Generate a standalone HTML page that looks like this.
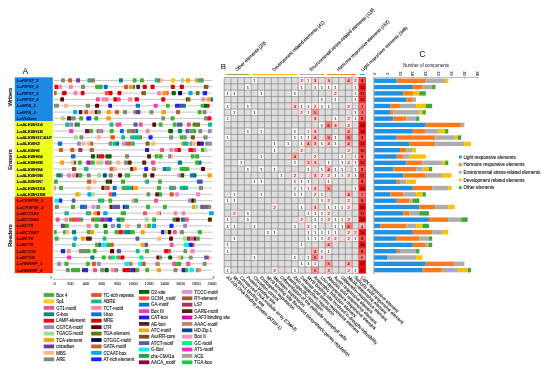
<!DOCTYPE html>
<html lang="en"><head><meta charset="utf-8"><title>Figure</title>
<style>html,body{margin:0;padding:0;background:#fff;}svg{display:block;will-change:transform;}text{font-family:"Liberation Sans", sans-serif;}</style></head><body>
<svg width="550" height="369" viewBox="0 0 550 369">
<rect width="550" height="369" fill="#fff"/>
<g id="panelA">
<text x="25.2" y="73.5" font-size="8.4" text-anchor="middle" fill="#000">A</text>
<rect x="14.80" y="77.30" width="38.00" height="44.00" fill="#1A8AE4"/>
<rect x="14.80" y="121.30" width="38.00" height="75.40" fill="#EEFF1A"/>
<rect x="14.80" y="196.70" width="38.00" height="76.40" fill="#FF2A00"/>
<text transform="translate(11.7 97.1) rotate(-90)" font-size="6" text-anchor="middle" fill="#111" stroke="#111" stroke-width="0.18">Writers</text>
<text transform="translate(11.7 159.7) rotate(-90)" font-size="6" text-anchor="middle" fill="#111" stroke="#111" stroke-width="0.18">Erasers</text>
<text transform="translate(11.7 235.7) rotate(-90)" font-size="6" text-anchor="middle" fill="#111" stroke="#111" stroke-width="0.18">Readers</text>
<text x="16.8" y="82.06" font-size="4.4" font-weight="bold" font-style="italic" fill="#07134A" stroke="#07134A" stroke-width="0.12">LcFIP37_1</text>
<text x="16.8" y="88.38" font-size="4.4" font-weight="bold" font-style="italic" fill="#07134A" stroke="#07134A" stroke-width="0.12">LcFIP37_2</text>
<text x="16.8" y="94.71" font-size="4.4" font-weight="bold" font-style="italic" fill="#07134A" stroke="#07134A" stroke-width="0.12">LcFIP37_3</text>
<text x="16.8" y="101.03" font-size="4.4" font-weight="bold" font-style="italic" fill="#07134A" stroke="#07134A" stroke-width="0.12">LcFIP37_4</text>
<text x="16.8" y="107.35" font-size="4.4" font-weight="bold" font-style="italic" fill="#07134A" stroke="#07134A" stroke-width="0.12">LcMTA_1</text>
<text x="16.8" y="113.68" font-size="4.4" font-weight="bold" font-style="italic" fill="#07134A" stroke="#07134A" stroke-width="0.12">LcMTA_2</text>
<text x="16.8" y="120.00" font-size="4.4" font-weight="bold" font-style="italic" fill="#07134A" stroke="#07134A" stroke-width="0.12">LcVirlizer</text>
<text x="16.8" y="126.32" font-size="4.4" font-weight="bold" font-style="italic" fill="#0A0A00" stroke="#0A0A00" stroke-width="0.12">LcALKBH1A</text>
<text x="16.8" y="132.65" font-size="4.4" font-weight="bold" font-style="italic" fill="#0A0A00" stroke="#0A0A00" stroke-width="0.12">LcALKBH1B</text>
<text x="16.8" y="138.97" font-size="4.4" font-weight="bold" font-style="italic" fill="#0A0A00" stroke="#0A0A00" stroke-width="0.12">LcALKBH1C&amp;1D</text>
<text x="16.8" y="145.29" font-size="4.4" font-weight="bold" font-style="italic" fill="#0A0A00" stroke="#0A0A00" stroke-width="0.12">LcALKBH2</text>
<text x="16.8" y="151.61" font-size="4.4" font-weight="bold" font-style="italic" fill="#0A0A00" stroke="#0A0A00" stroke-width="0.12">LcALKBH6</text>
<text x="16.8" y="157.94" font-size="4.4" font-weight="bold" font-style="italic" fill="#0A0A00" stroke="#0A0A00" stroke-width="0.12">LcALKBH8A</text>
<text x="16.8" y="164.26" font-size="4.4" font-weight="bold" font-style="italic" fill="#0A0A00" stroke="#0A0A00" stroke-width="0.12">LcALKBH8B</text>
<text x="16.8" y="170.58" font-size="4.4" font-weight="bold" font-style="italic" fill="#0A0A00" stroke="#0A0A00" stroke-width="0.12">LcALKBH9A</text>
<text x="16.8" y="176.91" font-size="4.4" font-weight="bold" font-style="italic" fill="#0A0A00" stroke="#0A0A00" stroke-width="0.12">LcALKBH9B</text>
<text x="16.8" y="183.23" font-size="4.4" font-weight="bold" font-style="italic" fill="#0A0A00" stroke="#0A0A00" stroke-width="0.12">LcALKBH9C</text>
<text x="16.8" y="189.55" font-size="4.4" font-weight="bold" font-style="italic" fill="#0A0A00" stroke="#0A0A00" stroke-width="0.12">LcALKBH10A</text>
<text x="16.8" y="195.88" font-size="4.4" font-weight="bold" font-style="italic" fill="#0A0A00" stroke="#0A0A00" stroke-width="0.12">LcALKBH10B</text>
<text x="16.8" y="202.20" font-size="4.4" font-weight="bold" font-style="italic" fill="#420000" stroke="#420000" stroke-width="0.12">LcCPSF30_1</text>
<text x="16.8" y="208.52" font-size="4.4" font-weight="bold" font-style="italic" fill="#420000" stroke="#420000" stroke-width="0.12">LcCPSF30_2</text>
<text x="16.8" y="214.84" font-size="4.4" font-weight="bold" font-style="italic" fill="#420000" stroke="#420000" stroke-width="0.12">LcECT1&amp;3</text>
<text x="16.8" y="221.17" font-size="4.4" font-weight="bold" font-style="italic" fill="#420000" stroke="#420000" stroke-width="0.12">LcECT2&amp;4</text>
<text x="16.8" y="227.49" font-size="4.4" font-weight="bold" font-style="italic" fill="#420000" stroke="#420000" stroke-width="0.12">LcECT5</text>
<text x="16.8" y="233.81" font-size="4.4" font-weight="bold" font-style="italic" fill="#420000" stroke="#420000" stroke-width="0.12">LcECT6&amp;7</text>
<text x="16.8" y="240.14" font-size="4.4" font-weight="bold" font-style="italic" fill="#420000" stroke="#420000" stroke-width="0.12">LcECT8</text>
<text x="16.8" y="246.46" font-size="4.4" font-weight="bold" font-style="italic" fill="#420000" stroke="#420000" stroke-width="0.12">LcECT9</text>
<text x="16.8" y="252.78" font-size="4.4" font-weight="bold" font-style="italic" fill="#420000" stroke="#420000" stroke-width="0.12">LcECT10</text>
<text x="16.8" y="259.11" font-size="4.4" font-weight="bold" font-style="italic" fill="#420000" stroke="#420000" stroke-width="0.12">LcECT11</text>
<text x="16.8" y="265.43" font-size="4.4" font-weight="bold" font-style="italic" fill="#420000" stroke="#420000" stroke-width="0.12">LcHNRNP_1</text>
<text x="16.8" y="271.75" font-size="4.4" font-weight="bold" font-style="italic" fill="#420000" stroke="#420000" stroke-width="0.12">LcHNRNP_2</text>
<line x1="53.8" y1="80.46" x2="212.3" y2="80.46" stroke="#B6B6B6" stroke-width="0.8"/>
<rect x="61.10" y="78.36" width="3.80" height="4.2" rx="0.6" fill="#7D8F72"/>
<rect x="68.10" y="78.36" width="3.90" height="4.2" rx="0.6" fill="#E8521E"/>
<rect x="76.10" y="78.36" width="4.00" height="4.2" rx="0.6" fill="#6A3D9A"/>
<rect x="87.40" y="78.36" width="3.80" height="4.2" rx="0.6" fill="#12B98C"/>
<rect x="90.90" y="78.36" width="2.30" height="4.2" rx="0.6" fill="#E8521E"/>
<rect x="92.60" y="78.36" width="2.40" height="4.2" rx="0.6" fill="#7D8F72"/>
<rect x="119.00" y="78.36" width="3.90" height="4.2" rx="0.6" fill="#00857A"/>
<rect x="132.80" y="78.36" width="3.80" height="4.2" rx="0.6" fill="#3DB234"/>
<rect x="139.90" y="78.36" width="4.00" height="4.2" rx="0.6" fill="#3DB234"/>
<rect x="154.90" y="78.36" width="4.30" height="4.2" rx="0.6" fill="#12B98C"/>
<rect x="158.70" y="78.36" width="1.80" height="4.2" rx="0.6" fill="#E8521E"/>
<rect x="160.30" y="78.36" width="2.70" height="4.2" rx="0.6" fill="#FFB48C"/>
<rect x="170.90" y="78.36" width="4.10" height="4.2" rx="0.6" fill="#FFCC00"/>
<rect x="180.60" y="78.36" width="3.80" height="4.2" rx="0.6" fill="#A0DC8C"/>
<rect x="185.90" y="78.36" width="4.10" height="4.2" rx="0.6" fill="#FFA000"/>
<rect x="194.90" y="78.36" width="3.50" height="4.2" rx="0.6" fill="#FFA000"/>
<rect x="198.10" y="78.36" width="4.10" height="4.2" rx="0.6" fill="#12B98C"/>
<rect x="201.50" y="78.36" width="2.30" height="4.2" rx="0.6" fill="#7D8F72"/>
<line x1="53.8" y1="86.78" x2="212.3" y2="86.78" stroke="#B6B6B6" stroke-width="0.8"/>
<rect x="54.50" y="84.68" width="3.80" height="4.2" rx="0.6" fill="#FF0019"/>
<rect x="58.30" y="84.68" width="3.70" height="4.2" rx="0.6" fill="#FF82AA"/>
<rect x="69.10" y="84.68" width="3.80" height="4.2" rx="0.6" fill="#FF82AA"/>
<rect x="81.00" y="84.68" width="4.00" height="4.2" rx="0.6" fill="#7D8F72"/>
<rect x="95.10" y="84.68" width="4.00" height="4.2" rx="0.6" fill="#3DB234"/>
<rect x="98.80" y="84.68" width="3.90" height="4.2" rx="0.6" fill="#3DB234"/>
<rect x="103.90" y="84.68" width="3.80" height="4.2" rx="0.6" fill="#0A6ED2"/>
<rect x="124.00" y="84.68" width="4.00" height="4.2" rx="0.6" fill="#E8521E"/>
<rect x="128.80" y="84.68" width="4.40" height="4.2" rx="0.6" fill="#FFA000"/>
<rect x="133.20" y="84.68" width="1.80" height="4.2" rx="0.6" fill="#0A6ED2"/>
<rect x="136.30" y="84.68" width="3.70" height="4.2" rx="0.6" fill="#5A1E1E"/>
<rect x="142.70" y="84.68" width="4.10" height="4.2" rx="0.6" fill="#DC0000"/>
<rect x="150.60" y="84.68" width="4.00" height="4.2" rx="0.6" fill="#DC0000"/>
<rect x="170.90" y="84.68" width="3.90" height="4.2" rx="0.6" fill="#DC0000"/>
<rect x="179.80" y="84.68" width="4.10" height="4.2" rx="0.6" fill="#DC0000"/>
<rect x="204.00" y="84.68" width="1.40" height="4.2" rx="0.6" fill="#DC0000"/>
<rect x="205.20" y="84.68" width="3.20" height="4.2" rx="0.6" fill="#5A7814"/>
<line x1="53.8" y1="93.11" x2="212.3" y2="93.11" stroke="#B6B6B6" stroke-width="0.8"/>
<rect x="54.00" y="91.01" width="2.70" height="4.2" rx="0.6" fill="#B4643C"/>
<rect x="62.00" y="91.01" width="4.60" height="4.2" rx="0.6" fill="#DC0000"/>
<rect x="73.60" y="91.01" width="4.00" height="4.2" rx="0.6" fill="#FF82AA"/>
<rect x="80.70" y="91.01" width="3.80" height="4.2" rx="0.6" fill="#DC0000"/>
<rect x="104.90" y="91.01" width="4.10" height="4.2" rx="0.6" fill="#FF5046"/>
<rect x="108.70" y="91.01" width="3.80" height="4.2" rx="0.6" fill="#DC0000"/>
<rect x="117.50" y="91.01" width="3.90" height="4.2" rx="0.6" fill="#DC0000"/>
<rect x="141.50" y="91.01" width="1.40" height="4.2" rx="0.6" fill="#DC0000"/>
<rect x="142.70" y="91.01" width="3.30" height="4.2" rx="0.6" fill="#5A7814"/>
<rect x="157.20" y="91.01" width="3.80" height="4.2" rx="0.6" fill="#FF82AA"/>
<rect x="162.20" y="91.01" width="4.60" height="4.2" rx="0.6" fill="#FFA000"/>
<rect x="166.60" y="91.01" width="2.10" height="4.2" rx="0.6" fill="#F5508C"/>
<rect x="171.70" y="91.01" width="4.10" height="4.2" rx="0.6" fill="#006400"/>
<rect x="178.10" y="91.01" width="4.00" height="4.2" rx="0.6" fill="#0A0A46"/>
<rect x="188.50" y="91.01" width="4.10" height="4.2" rx="0.6" fill="#00AAF0"/>
<rect x="195.80" y="91.01" width="3.70" height="4.2" rx="0.6" fill="#5A7814"/>
<rect x="202.70" y="91.01" width="4.40" height="4.2" rx="0.6" fill="#1428FF"/>
<line x1="53.8" y1="99.43" x2="212.3" y2="99.43" stroke="#B6B6B6" stroke-width="0.8"/>
<rect x="60.30" y="97.33" width="3.70" height="4.2" rx="0.6" fill="#640000"/>
<rect x="95.90" y="97.33" width="3.90" height="4.2" rx="0.6" fill="#F5508C"/>
<rect x="101.70" y="97.33" width="3.60" height="4.2" rx="0.6" fill="#FF82AA"/>
<rect x="105.10" y="97.33" width="3.60" height="4.2" rx="0.6" fill="#FF82AA"/>
<rect x="113.40" y="97.33" width="3.60" height="4.2" rx="0.6" fill="#DC0000"/>
<rect x="117.00" y="97.33" width="3.70" height="4.2" rx="0.6" fill="#F5508C"/>
<rect x="128.00" y="97.33" width="4.00" height="4.2" rx="0.6" fill="#FF82AA"/>
<rect x="134.70" y="97.33" width="4.20" height="4.2" rx="0.6" fill="#DC0000"/>
<rect x="161.30" y="97.33" width="4.00" height="4.2" rx="0.6" fill="#DC0000"/>
<rect x="185.80" y="97.33" width="1.40" height="4.2" rx="0.6" fill="#DC0000"/>
<rect x="187.00" y="97.33" width="3.50" height="4.2" rx="0.6" fill="#5A7814"/>
<rect x="201.50" y="97.33" width="3.80" height="4.2" rx="0.6" fill="#FF82AA"/>
<rect x="206.80" y="97.33" width="3.80" height="4.2" rx="0.6" fill="#FFA000"/>
<rect x="210.60" y="97.33" width="2.40" height="4.2" rx="0.6" fill="#0A6ED2"/>
<line x1="53.8" y1="105.75" x2="212.3" y2="105.75" stroke="#B6B6B6" stroke-width="0.8"/>
<rect x="54.00" y="103.65" width="4.90" height="4.2" rx="0.6" fill="#7D8F72"/>
<rect x="64.00" y="103.65" width="3.80" height="4.2" rx="0.6" fill="#FFB48C"/>
<rect x="85.90" y="103.65" width="4.10" height="4.2" rx="0.6" fill="#7D8F72"/>
<rect x="95.10" y="103.65" width="4.00" height="4.2" rx="0.6" fill="#640000"/>
<rect x="108.30" y="103.65" width="3.70" height="4.2" rx="0.6" fill="#2814E6"/>
<rect x="135.80" y="103.65" width="4.20" height="4.2" rx="0.6" fill="#0A78C8"/>
<rect x="153.70" y="103.65" width="4.00" height="4.2" rx="0.6" fill="#FF32C8"/>
<rect x="165.90" y="103.65" width="3.80" height="4.2" rx="0.6" fill="#3DB234"/>
<rect x="175.00" y="103.65" width="4.30" height="4.2" rx="0.6" fill="#1428FF"/>
<rect x="179.00" y="103.65" width="4.20" height="4.2" rx="0.6" fill="#6A3D9A"/>
<rect x="182.90" y="103.65" width="3.00" height="4.2" rx="0.6" fill="#00857A"/>
<rect x="200.70" y="103.65" width="3.80" height="4.2" rx="0.6" fill="#3DB234"/>
<rect x="204.00" y="103.65" width="3.90" height="4.2" rx="0.6" fill="#006400"/>
<rect x="207.60" y="103.65" width="1.80" height="4.2" rx="0.6" fill="#DC0000"/>
<line x1="53.8" y1="112.08" x2="212.3" y2="112.08" stroke="#B6B6B6" stroke-width="0.8"/>
<rect x="73.20" y="109.98" width="3.90" height="4.2" rx="0.6" fill="#00AAF0"/>
<rect x="78.80" y="109.98" width="3.60" height="4.2" rx="0.6" fill="#5A1E1E"/>
<rect x="84.20" y="109.98" width="3.90" height="4.2" rx="0.6" fill="#E8521E"/>
<rect x="89.70" y="109.98" width="4.00" height="4.2" rx="0.6" fill="#FFB48C"/>
<rect x="94.70" y="109.98" width="2.60" height="4.2" rx="0.6" fill="#5A1E1E"/>
<rect x="97.00" y="109.98" width="4.00" height="4.2" rx="0.6" fill="#7D8F72"/>
<rect x="106.80" y="109.98" width="4.10" height="4.2" rx="0.6" fill="#FFA000"/>
<rect x="114.90" y="109.98" width="4.10" height="4.2" rx="0.6" fill="#E8521E"/>
<rect x="123.00" y="109.98" width="4.00" height="4.2" rx="0.6" fill="#7D8F72"/>
<rect x="133.50" y="109.98" width="2.40" height="4.2" rx="0.6" fill="#7D8F72"/>
<rect x="135.70" y="109.98" width="4.70" height="4.2" rx="0.6" fill="#6A3D9A"/>
<rect x="149.60" y="109.98" width="3.80" height="4.2" rx="0.6" fill="#7D8F72"/>
<rect x="161.30" y="109.98" width="4.70" height="4.2" rx="0.6" fill="#FFA000"/>
<rect x="176.00" y="109.98" width="4.10" height="4.2" rx="0.6" fill="#B4643C"/>
<rect x="197.70" y="109.98" width="3.80" height="4.2" rx="0.6" fill="#3DB234"/>
<rect x="202.60" y="109.98" width="3.80" height="4.2" rx="0.6" fill="#7D8F72"/>
<line x1="53.8" y1="118.40" x2="212.3" y2="118.40" stroke="#B6B6B6" stroke-width="0.8"/>
<rect x="60.80" y="116.30" width="4.10" height="4.2" rx="0.6" fill="#A0DC8C"/>
<rect x="67.00" y="116.30" width="4.00" height="4.2" rx="0.6" fill="#5A1E1E"/>
<rect x="71.00" y="116.30" width="4.70" height="4.2" rx="0.6" fill="#7D8F72"/>
<rect x="79.20" y="116.30" width="3.90" height="4.2" rx="0.6" fill="#3DB234"/>
<rect x="86.40" y="116.30" width="4.80" height="4.2" rx="0.6" fill="#1428FF"/>
<rect x="94.40" y="116.30" width="3.90" height="4.2" rx="0.6" fill="#3DB234"/>
<rect x="106.40" y="116.30" width="4.40" height="4.2" rx="0.6" fill="#FFA000"/>
<rect x="161.30" y="116.30" width="3.80" height="4.2" rx="0.6" fill="#7D8F72"/>
<rect x="170.60" y="116.30" width="3.90" height="4.2" rx="0.6" fill="#3DB234"/>
<rect x="204.00" y="116.30" width="3.60" height="4.2" rx="0.6" fill="#7D8F72"/>
<rect x="207.30" y="116.30" width="4.10" height="4.2" rx="0.6" fill="#FF0019"/>
<line x1="53.8" y1="124.72" x2="212.3" y2="124.72" stroke="#B6B6B6" stroke-width="0.8"/>
<rect x="65.20" y="122.62" width="4.10" height="4.2" rx="0.6" fill="#12B98C"/>
<rect x="69.30" y="122.62" width="3.90" height="4.2" rx="0.6" fill="#9A8CB8"/>
<rect x="74.70" y="122.62" width="2.80" height="4.2" rx="0.6" fill="#00857A"/>
<rect x="77.30" y="122.62" width="2.50" height="4.2" rx="0.6" fill="#5A7814"/>
<rect x="109.50" y="122.62" width="3.90" height="4.2" rx="0.6" fill="#12B98C"/>
<rect x="115.60" y="122.62" width="5.80" height="4.2" rx="0.6" fill="#F5508C"/>
<rect x="133.50" y="122.62" width="4.10" height="4.2" rx="0.6" fill="#5A5AA0"/>
<rect x="138.90" y="122.62" width="3.80" height="4.2" rx="0.6" fill="#F5508C"/>
<rect x="152.30" y="122.62" width="3.80" height="4.2" rx="0.6" fill="#640000"/>
<rect x="158.70" y="122.62" width="3.80" height="4.2" rx="0.6" fill="#3DB234"/>
<rect x="172.80" y="122.62" width="3.80" height="4.2" rx="0.6" fill="#3DB234"/>
<rect x="177.00" y="122.62" width="5.40" height="4.2" rx="0.6" fill="#5A5AA0"/>
<rect x="187.00" y="122.62" width="3.80" height="4.2" rx="0.6" fill="#F5508C"/>
<rect x="192.60" y="122.62" width="3.80" height="4.2" rx="0.6" fill="#5A7814"/>
<rect x="196.20" y="122.62" width="3.80" height="4.2" rx="0.6" fill="#5A7814"/>
<rect x="207.90" y="122.62" width="4.00" height="4.2" rx="0.6" fill="#12B98C"/>
<line x1="53.8" y1="131.05" x2="212.3" y2="131.05" stroke="#B6B6B6" stroke-width="0.8"/>
<rect x="69.10" y="128.95" width="4.10" height="4.2" rx="0.6" fill="#FF32C8"/>
<rect x="85.00" y="128.95" width="4.30" height="4.2" rx="0.6" fill="#8C0046"/>
<rect x="89.00" y="128.95" width="3.90" height="4.2" rx="0.6" fill="#3DB234"/>
<rect x="96.60" y="128.95" width="1.60" height="4.2" rx="0.6" fill="#B4643C"/>
<rect x="98.00" y="128.95" width="4.20" height="4.2" rx="0.6" fill="#9A8CB8"/>
<rect x="102.00" y="128.95" width="1.20" height="4.2" rx="0.6" fill="#B4643C"/>
<rect x="109.70" y="128.95" width="4.00" height="4.2" rx="0.6" fill="#3DB234"/>
<rect x="120.00" y="128.95" width="3.90" height="4.2" rx="0.6" fill="#0A6ED2"/>
<rect x="126.90" y="128.95" width="4.10" height="4.2" rx="0.6" fill="#7D8F72"/>
<rect x="131.00" y="128.95" width="4.40" height="4.2" rx="0.6" fill="#B4643C"/>
<rect x="135.40" y="128.95" width="2.70" height="4.2" rx="0.6" fill="#0A6ED2"/>
<rect x="145.70" y="128.95" width="3.90" height="4.2" rx="0.6" fill="#FF82AA"/>
<rect x="168.30" y="128.95" width="4.60" height="4.2" rx="0.6" fill="#006400"/>
<rect x="177.80" y="128.95" width="4.30" height="4.2" rx="0.6" fill="#00857A"/>
<rect x="185.50" y="128.95" width="3.80" height="4.2" rx="0.6" fill="#5A5AA0"/>
<rect x="189.30" y="128.95" width="3.20" height="4.2" rx="0.6" fill="#7D8F72"/>
<rect x="192.30" y="128.95" width="3.80" height="4.2" rx="0.6" fill="#3DB234"/>
<rect x="198.40" y="128.95" width="3.90" height="4.2" rx="0.6" fill="#7D8F72"/>
<rect x="207.90" y="128.95" width="3.80" height="4.2" rx="0.6" fill="#9A8CB8"/>
<line x1="53.8" y1="137.37" x2="212.3" y2="137.37" stroke="#B6B6B6" stroke-width="0.8"/>
<rect x="73.90" y="135.27" width="4.00" height="4.2" rx="0.6" fill="#A0DC8C"/>
<rect x="79.50" y="135.27" width="3.80" height="4.2" rx="0.6" fill="#7D8F72"/>
<rect x="96.70" y="135.27" width="4.10" height="4.2" rx="0.6" fill="#FFB48C"/>
<rect x="110.50" y="135.27" width="4.40" height="4.2" rx="0.6" fill="#E8521E"/>
<rect x="121.20" y="135.27" width="3.90" height="4.2" rx="0.6" fill="#12B98C"/>
<rect x="130.20" y="135.27" width="10.20" height="4.2" rx="0.6" fill="#12B98C"/>
<rect x="140.20" y="135.27" width="1.70" height="4.2" rx="0.6" fill="#5A7814"/>
<rect x="148.50" y="135.27" width="4.10" height="4.2" rx="0.6" fill="#1428FF"/>
<rect x="169.10" y="135.27" width="4.10" height="4.2" rx="0.6" fill="#7D8F72"/>
<rect x="179.80" y="135.27" width="3.50" height="4.2" rx="0.6" fill="#3DB234"/>
<rect x="183.10" y="135.27" width="3.60" height="4.2" rx="0.6" fill="#7D8F72"/>
<rect x="190.80" y="135.27" width="4.10" height="4.2" rx="0.6" fill="#7A5020"/>
<rect x="203.30" y="135.27" width="4.30" height="4.2" rx="0.6" fill="#7D8F72"/>
<line x1="53.8" y1="143.69" x2="212.3" y2="143.69" stroke="#B6B6B6" stroke-width="0.8"/>
<rect x="57.80" y="141.59" width="4.40" height="4.2" rx="0.6" fill="#0A6ED2"/>
<rect x="77.10" y="141.59" width="3.80" height="4.2" rx="0.6" fill="#9A8CB8"/>
<rect x="81.70" y="141.59" width="3.60" height="4.2" rx="0.6" fill="#FFB48C"/>
<rect x="87.10" y="141.59" width="3.40" height="4.2" rx="0.6" fill="#FFB48C"/>
<rect x="90.30" y="141.59" width="2.90" height="4.2" rx="0.6" fill="#B4643C"/>
<rect x="108.70" y="141.59" width="3.50" height="4.2" rx="0.6" fill="#7D8F72"/>
<rect x="112.70" y="141.59" width="4.30" height="4.2" rx="0.6" fill="#12B98C"/>
<rect x="116.30" y="141.59" width="2.70" height="4.2" rx="0.6" fill="#00857A"/>
<rect x="121.90" y="141.59" width="3.60" height="4.2" rx="0.6" fill="#E68CD2"/>
<rect x="125.10" y="141.59" width="2.20" height="4.2" rx="0.6" fill="#7D8F72"/>
<rect x="127.00" y="141.59" width="4.70" height="4.2" rx="0.6" fill="#E8521E"/>
<rect x="131.70" y="141.59" width="3.00" height="4.2" rx="0.6" fill="#12B98C"/>
<rect x="145.70" y="141.59" width="3.90" height="4.2" rx="0.6" fill="#5A7814"/>
<rect x="151.10" y="141.59" width="4.10" height="4.2" rx="0.6" fill="#FFB48C"/>
<rect x="180.60" y="141.59" width="1.80" height="4.2" rx="0.6" fill="#FFCC00"/>
<rect x="182.40" y="141.59" width="6.10" height="4.2" rx="0.6" fill="#12B98C"/>
<rect x="189.70" y="141.59" width="2.30" height="4.2" rx="0.6" fill="#7D8F72"/>
<rect x="191.60" y="141.59" width="3.80" height="4.2" rx="0.6" fill="#FFB48C"/>
<rect x="196.90" y="141.59" width="3.80" height="4.2" rx="0.6" fill="#640000"/>
<rect x="200.40" y="141.59" width="3.40" height="4.2" rx="0.6" fill="#2814E6"/>
<rect x="205.30" y="141.59" width="2.60" height="4.2" rx="0.6" fill="#7D8F72"/>
<rect x="207.90" y="141.59" width="4.00" height="4.2" rx="0.6" fill="#9A8CB8"/>
<line x1="53.8" y1="150.01" x2="212.3" y2="150.01" stroke="#B6B6B6" stroke-width="0.8"/>
<rect x="59.00" y="147.91" width="4.00" height="4.2" rx="0.6" fill="#E8521E"/>
<rect x="70.30" y="147.91" width="4.10" height="4.2" rx="0.6" fill="#E8521E"/>
<rect x="78.30" y="147.91" width="4.10" height="4.2" rx="0.6" fill="#AA325A"/>
<rect x="89.70" y="147.91" width="4.30" height="4.2" rx="0.6" fill="#B4643C"/>
<rect x="145.00" y="147.91" width="4.10" height="4.2" rx="0.6" fill="#2814E6"/>
<rect x="159.90" y="147.91" width="4.20" height="4.2" rx="0.6" fill="#F5508C"/>
<rect x="169.40" y="147.91" width="3.80" height="4.2" rx="0.6" fill="#FF82AA"/>
<rect x="174.30" y="147.91" width="3.80" height="4.2" rx="0.6" fill="#F5508C"/>
<rect x="177.80" y="147.91" width="3.10" height="4.2" rx="0.6" fill="#DC0000"/>
<rect x="188.50" y="147.91" width="4.60" height="4.2" rx="0.6" fill="#FF0019"/>
<rect x="192.80" y="147.91" width="3.30" height="4.2" rx="0.6" fill="#F5508C"/>
<rect x="201.00" y="147.91" width="3.30" height="4.2" rx="0.6" fill="#3DB234"/>
<rect x="204.10" y="147.91" width="3.00" height="4.2" rx="0.6" fill="#A0DC8C"/>
<line x1="53.8" y1="156.34" x2="212.3" y2="156.34" stroke="#B6B6B6" stroke-width="0.8"/>
<rect x="71.00" y="154.24" width="4.40" height="4.2" rx="0.6" fill="#0A6ED2"/>
<rect x="90.90" y="154.24" width="4.20" height="4.2" rx="0.6" fill="#006400"/>
<rect x="96.60" y="154.24" width="2.00" height="4.2" rx="0.6" fill="#006400"/>
<rect x="98.40" y="154.24" width="5.90" height="4.2" rx="0.6" fill="#FF0019"/>
<rect x="105.40" y="154.24" width="6.20" height="4.2" rx="0.6" fill="#006400"/>
<rect x="125.10" y="154.24" width="3.90" height="4.2" rx="0.6" fill="#7D8F72"/>
<rect x="147.00" y="154.24" width="4.10" height="4.2" rx="0.6" fill="#5A2800"/>
<rect x="154.60" y="154.24" width="3.80" height="4.2" rx="0.6" fill="#3DB234"/>
<rect x="158.70" y="154.24" width="3.80" height="4.2" rx="0.6" fill="#3DB234"/>
<rect x="168.20" y="154.24" width="3.20" height="4.2" rx="0.6" fill="#7D8F72"/>
<rect x="171.20" y="154.24" width="2.00" height="4.2" rx="0.6" fill="#FFB48C"/>
<rect x="190.80" y="154.24" width="3.80" height="4.2" rx="0.6" fill="#3DB234"/>
<rect x="194.90" y="154.24" width="4.30" height="4.2" rx="0.6" fill="#3DB234"/>
<line x1="53.8" y1="162.66" x2="212.3" y2="162.66" stroke="#B6B6B6" stroke-width="0.8"/>
<rect x="60.00" y="160.56" width="4.10" height="4.2" rx="0.6" fill="#FFA000"/>
<rect x="70.70" y="160.56" width="3.20" height="4.2" rx="0.6" fill="#FFB48C"/>
<rect x="73.90" y="160.56" width="2.20" height="4.2" rx="0.6" fill="#5A7814"/>
<rect x="77.90" y="160.56" width="3.80" height="4.2" rx="0.6" fill="#3DB234"/>
<rect x="86.40" y="160.56" width="4.30" height="4.2" rx="0.6" fill="#DC00B4"/>
<rect x="90.50" y="160.56" width="4.20" height="4.2" rx="0.6" fill="#3DB234"/>
<rect x="95.90" y="160.56" width="4.10" height="4.2" rx="0.6" fill="#FFB48C"/>
<rect x="99.50" y="160.56" width="3.70" height="4.2" rx="0.6" fill="#A0DC8C"/>
<rect x="104.90" y="160.56" width="4.80" height="4.2" rx="0.6" fill="#F5508C"/>
<rect x="109.50" y="160.56" width="2.10" height="4.2" rx="0.6" fill="#3DB234"/>
<rect x="116.30" y="160.56" width="4.00" height="4.2" rx="0.6" fill="#FFB48C"/>
<rect x="124.10" y="160.56" width="3.60" height="4.2" rx="0.6" fill="#7D8F72"/>
<rect x="127.70" y="160.56" width="4.00" height="4.2" rx="0.6" fill="#5A2800"/>
<rect x="142.20" y="160.56" width="4.00" height="4.2" rx="0.6" fill="#5A1E1E"/>
<rect x="151.10" y="160.56" width="4.10" height="4.2" rx="0.6" fill="#F5508C"/>
<rect x="177.80" y="160.56" width="4.30" height="4.2" rx="0.6" fill="#00857A"/>
<rect x="195.10" y="160.56" width="4.10" height="4.2" rx="0.6" fill="#3DB234"/>
<rect x="198.90" y="160.56" width="2.60" height="4.2" rx="0.6" fill="#00857A"/>
<line x1="53.8" y1="168.98" x2="212.3" y2="168.98" stroke="#B6B6B6" stroke-width="0.8"/>
<rect x="72.00" y="166.88" width="4.10" height="4.2" rx="0.6" fill="#7A5020"/>
<rect x="83.90" y="166.88" width="4.60" height="4.2" rx="0.6" fill="#12B98C"/>
<rect x="109.50" y="166.88" width="3.90" height="4.2" rx="0.6" fill="#FF5046"/>
<rect x="113.10" y="166.88" width="3.90" height="4.2" rx="0.6" fill="#FFB48C"/>
<rect x="130.20" y="166.88" width="2.80" height="4.2" rx="0.6" fill="#5A1E1E"/>
<rect x="132.80" y="166.88" width="3.80" height="4.2" rx="0.6" fill="#FFA000"/>
<rect x="144.20" y="166.88" width="3.80" height="4.2" rx="0.6" fill="#2814E6"/>
<rect x="151.90" y="166.88" width="4.10" height="4.2" rx="0.6" fill="#C8826E"/>
<rect x="162.80" y="166.88" width="4.00" height="4.2" rx="0.6" fill="#0A6ED2"/>
<rect x="166.50" y="166.88" width="4.40" height="4.2" rx="0.6" fill="#12B98C"/>
<rect x="179.80" y="166.88" width="9.50" height="4.2" rx="0.6" fill="#3DB234"/>
<rect x="201.00" y="166.88" width="4.00" height="4.2" rx="0.6" fill="#640000"/>
<line x1="53.8" y1="175.31" x2="212.3" y2="175.31" stroke="#B6B6B6" stroke-width="0.8"/>
<rect x="56.00" y="173.21" width="1.30" height="4.2" rx="0.6" fill="#7D8F72"/>
<rect x="57.10" y="173.21" width="3.90" height="4.2" rx="0.6" fill="#00857A"/>
<rect x="61.00" y="173.21" width="2.00" height="4.2" rx="0.6" fill="#7D8F72"/>
<rect x="67.00" y="173.21" width="4.00" height="4.2" rx="0.6" fill="#FF82AA"/>
<rect x="72.00" y="173.21" width="4.10" height="4.2" rx="0.6" fill="#FF82AA"/>
<rect x="76.10" y="173.21" width="2.50" height="4.2" rx="0.6" fill="#5A1E1E"/>
<rect x="78.30" y="173.21" width="4.10" height="4.2" rx="0.6" fill="#3DB234"/>
<rect x="86.80" y="173.21" width="3.90" height="4.2" rx="0.6" fill="#7D8F72"/>
<rect x="97.00" y="173.21" width="4.00" height="4.2" rx="0.6" fill="#A0DC8C"/>
<rect x="102.90" y="173.21" width="3.90" height="4.2" rx="0.6" fill="#0A4696"/>
<rect x="108.70" y="173.21" width="4.00" height="4.2" rx="0.6" fill="#7D8F72"/>
<rect x="118.10" y="173.21" width="3.80" height="4.2" rx="0.6" fill="#640000"/>
<rect x="124.70" y="173.21" width="5.50" height="4.2" rx="0.6" fill="#3DB234"/>
<rect x="143.00" y="173.21" width="4.00" height="4.2" rx="0.6" fill="#5A7814"/>
<rect x="150.30" y="173.21" width="4.10" height="4.2" rx="0.6" fill="#640000"/>
<rect x="177.40" y="173.21" width="3.50" height="4.2" rx="0.6" fill="#FF82AA"/>
<rect x="180.60" y="173.21" width="3.60" height="4.2" rx="0.6" fill="#006400"/>
<rect x="190.00" y="173.21" width="4.60" height="4.2" rx="0.6" fill="#0A6ED2"/>
<rect x="194.30" y="173.21" width="2.10" height="4.2" rx="0.6" fill="#006400"/>
<rect x="207.60" y="173.21" width="4.30" height="4.2" rx="0.6" fill="#FFA000"/>
<line x1="53.8" y1="181.63" x2="212.3" y2="181.63" stroke="#B6B6B6" stroke-width="0.8"/>
<rect x="54.00" y="179.53" width="3.80" height="4.2" rx="0.6" fill="#3DB234"/>
<rect x="87.10" y="179.53" width="4.10" height="4.2" rx="0.6" fill="#E8521E"/>
<rect x="92.50" y="179.53" width="3.80" height="4.2" rx="0.6" fill="#FFB48C"/>
<rect x="105.70" y="179.53" width="4.00" height="4.2" rx="0.6" fill="#006400"/>
<rect x="109.50" y="179.53" width="2.50" height="4.2" rx="0.6" fill="#640000"/>
<rect x="121.00" y="179.53" width="4.10" height="4.2" rx="0.6" fill="#3DB234"/>
<rect x="144.60" y="179.53" width="1.00" height="4.2" rx="0.6" fill="#FF82AA"/>
<rect x="145.40" y="179.53" width="3.70" height="4.2" rx="0.6" fill="#12B98C"/>
<rect x="158.00" y="179.53" width="3.80" height="4.2" rx="0.6" fill="#3DB234"/>
<rect x="196.90" y="179.53" width="3.10" height="4.2" rx="0.6" fill="#0A6ED2"/>
<rect x="199.70" y="179.53" width="2.90" height="4.2" rx="0.6" fill="#6A3D9A"/>
<line x1="53.8" y1="187.95" x2="212.3" y2="187.95" stroke="#B6B6B6" stroke-width="0.8"/>
<rect x="53.80" y="185.85" width="2.30" height="4.2" rx="0.6" fill="#FF82AA"/>
<rect x="59.00" y="185.85" width="4.00" height="4.2" rx="0.6" fill="#3DB234"/>
<rect x="86.80" y="185.85" width="3.90" height="4.2" rx="0.6" fill="#FFB48C"/>
<rect x="101.30" y="185.85" width="3.30" height="4.2" rx="0.6" fill="#5A1E1E"/>
<rect x="104.20" y="185.85" width="1.80" height="4.2" rx="0.6" fill="#7D8F72"/>
<rect x="105.80" y="185.85" width="3.90" height="4.2" rx="0.6" fill="#E8521E"/>
<rect x="112.70" y="185.85" width="3.90" height="4.2" rx="0.6" fill="#0A6ED2"/>
<rect x="121.70" y="185.85" width="4.10" height="4.2" rx="0.6" fill="#3DB234"/>
<rect x="125.50" y="185.85" width="6.50" height="4.2" rx="0.6" fill="#12B98C"/>
<rect x="132.00" y="185.85" width="1.20" height="4.2" rx="0.6" fill="#DC0000"/>
<rect x="133.80" y="185.85" width="4.30" height="4.2" rx="0.6" fill="#FFA000"/>
<rect x="156.90" y="185.85" width="4.10" height="4.2" rx="0.6" fill="#3DB234"/>
<rect x="169.10" y="185.85" width="3.80" height="4.2" rx="0.6" fill="#12B98C"/>
<rect x="172.50" y="185.85" width="3.50" height="4.2" rx="0.6" fill="#7D8F72"/>
<rect x="179.80" y="185.85" width="3.80" height="4.2" rx="0.6" fill="#12B98C"/>
<rect x="183.30" y="185.85" width="1.90" height="4.2" rx="0.6" fill="#00857A"/>
<rect x="184.70" y="185.85" width="3.50" height="4.2" rx="0.6" fill="#12B98C"/>
<rect x="198.90" y="185.85" width="4.10" height="4.2" rx="0.6" fill="#7D8F72"/>
<line x1="53.8" y1="194.28" x2="212.3" y2="194.28" stroke="#B6B6B6" stroke-width="0.8"/>
<rect x="75.40" y="192.18" width="4.10" height="4.2" rx="0.6" fill="#F0AA00"/>
<rect x="79.20" y="192.18" width="1.50" height="4.2" rx="0.6" fill="#A0DC8C"/>
<rect x="87.50" y="192.18" width="4.00" height="4.2" rx="0.6" fill="#00AAF0"/>
<rect x="91.30" y="192.18" width="3.50" height="4.2" rx="0.6" fill="#A0DC8C"/>
<rect x="108.70" y="192.18" width="3.50" height="4.2" rx="0.6" fill="#FF5046"/>
<rect x="111.90" y="192.18" width="4.40" height="4.2" rx="0.6" fill="#0A6ED2"/>
<rect x="146.50" y="192.18" width="3.80" height="4.2" rx="0.6" fill="#7D8F72"/>
<rect x="155.20" y="192.18" width="4.00" height="4.2" rx="0.6" fill="#5A1E1E"/>
<rect x="158.90" y="192.18" width="3.30" height="4.2" rx="0.6" fill="#3DB234"/>
<rect x="169.70" y="192.18" width="4.00" height="4.2" rx="0.6" fill="#E8521E"/>
<rect x="175.20" y="192.18" width="3.80" height="4.2" rx="0.6" fill="#E68CD2"/>
<rect x="196.10" y="192.18" width="4.20" height="4.2" rx="0.6" fill="#E68CD2"/>
<line x1="53.8" y1="200.60" x2="212.3" y2="200.60" stroke="#B6B6B6" stroke-width="0.8"/>
<rect x="54.60" y="198.50" width="4.70" height="4.2" rx="0.6" fill="#00F0F0"/>
<rect x="59.00" y="198.50" width="3.20" height="4.2" rx="0.6" fill="#1428FF"/>
<rect x="71.70" y="198.50" width="3.70" height="4.2" rx="0.6" fill="#5A5AA0"/>
<rect x="98.00" y="198.50" width="3.70" height="4.2" rx="0.6" fill="#12B98C"/>
<rect x="101.40" y="198.50" width="2.90" height="4.2" rx="0.6" fill="#3DB234"/>
<rect x="108.30" y="198.50" width="3.90" height="4.2" rx="0.6" fill="#3DB234"/>
<rect x="132.00" y="198.50" width="2.50" height="4.2" rx="0.6" fill="#FF82AA"/>
<rect x="134.30" y="198.50" width="3.80" height="4.2" rx="0.6" fill="#3DB234"/>
<rect x="154.10" y="198.50" width="3.90" height="4.2" rx="0.6" fill="#F5508C"/>
<rect x="188.00" y="198.50" width="3.60" height="4.2" rx="0.6" fill="#9A8CB8"/>
<rect x="191.30" y="198.50" width="3.00" height="4.2" rx="0.6" fill="#640000"/>
<rect x="193.90" y="198.50" width="2.20" height="4.2" rx="0.6" fill="#3DB234"/>
<line x1="53.8" y1="206.92" x2="212.3" y2="206.92" stroke="#B6B6B6" stroke-width="0.8"/>
<rect x="54.90" y="204.82" width="4.00" height="4.2" rx="0.6" fill="#7D8F72"/>
<rect x="71.00" y="204.82" width="4.00" height="4.2" rx="0.6" fill="#3DB234"/>
<rect x="80.00" y="204.82" width="4.90" height="4.2" rx="0.6" fill="#0A6ED2"/>
<rect x="84.20" y="204.82" width="2.90" height="4.2" rx="0.6" fill="#5A5AA0"/>
<rect x="91.50" y="204.82" width="3.90" height="4.2" rx="0.6" fill="#E68CD2"/>
<rect x="96.30" y="204.82" width="3.70" height="4.2" rx="0.6" fill="#7D8F72"/>
<rect x="109.50" y="204.82" width="2.70" height="4.2" rx="0.6" fill="#5A2800"/>
<rect x="111.90" y="204.82" width="8.10" height="4.2" rx="0.6" fill="#5A5AA0"/>
<rect x="122.90" y="204.82" width="2.20" height="4.2" rx="0.6" fill="#2814E6"/>
<rect x="124.80" y="204.82" width="4.20" height="4.2" rx="0.6" fill="#00857A"/>
<rect x="146.00" y="204.82" width="4.00" height="4.2" rx="0.6" fill="#3DB234"/>
<rect x="163.00" y="204.82" width="3.80" height="4.2" rx="0.6" fill="#3DB234"/>
<rect x="191.90" y="204.82" width="3.00" height="4.2" rx="0.6" fill="#F0AA00"/>
<rect x="194.60" y="204.82" width="3.40" height="4.2" rx="0.6" fill="#A0DC8C"/>
<rect x="200.30" y="204.82" width="3.80" height="4.2" rx="0.6" fill="#5A5AA0"/>
<rect x="203.80" y="204.82" width="2.30" height="4.2" rx="0.6" fill="#E8521E"/>
<rect x="205.80" y="204.82" width="2.10" height="4.2" rx="0.6" fill="#0A6ED2"/>
<rect x="207.60" y="204.82" width="3.40" height="4.2" rx="0.6" fill="#7D8F72"/>
<line x1="53.8" y1="213.24" x2="212.3" y2="213.24" stroke="#B6B6B6" stroke-width="0.8"/>
<rect x="64.40" y="211.14" width="4.40" height="4.2" rx="0.6" fill="#12B98C"/>
<rect x="85.90" y="211.14" width="3.40" height="4.2" rx="0.6" fill="#12B98C"/>
<rect x="88.50" y="211.14" width="2.70" height="4.2" rx="0.6" fill="#7D8F72"/>
<rect x="93.20" y="211.14" width="4.10" height="4.2" rx="0.6" fill="#FFA000"/>
<rect x="97.00" y="211.14" width="3.00" height="4.2" rx="0.6" fill="#DC0000"/>
<rect x="103.20" y="211.14" width="4.40" height="4.2" rx="0.6" fill="#00AAF0"/>
<rect x="120.70" y="211.14" width="5.40" height="4.2" rx="0.6" fill="#3DB234"/>
<rect x="143.00" y="211.14" width="4.00" height="4.2" rx="0.6" fill="#F5508C"/>
<rect x="156.10" y="211.14" width="3.90" height="4.2" rx="0.6" fill="#FFB48C"/>
<rect x="159.80" y="211.14" width="1.20" height="4.2" rx="0.6" fill="#B4643C"/>
<rect x="173.70" y="211.14" width="3.70" height="4.2" rx="0.6" fill="#FF82AA"/>
<rect x="181.60" y="211.14" width="3.90" height="4.2" rx="0.6" fill="#FF82AA"/>
<rect x="209.10" y="211.14" width="4.60" height="4.2" rx="0.6" fill="#00AAF0"/>
<line x1="53.8" y1="219.57" x2="212.3" y2="219.57" stroke="#B6B6B6" stroke-width="0.8"/>
<rect x="55.70" y="217.47" width="4.00" height="4.2" rx="0.6" fill="#F5508C"/>
<rect x="64.40" y="217.47" width="3.70" height="4.2" rx="0.6" fill="#FF82AA"/>
<rect x="69.10" y="217.47" width="2.60" height="4.2" rx="0.6" fill="#3DB234"/>
<rect x="71.40" y="217.47" width="5.50" height="4.2" rx="0.6" fill="#E8521E"/>
<rect x="76.60" y="217.47" width="4.30" height="4.2" rx="0.6" fill="#FF32C8"/>
<rect x="80.50" y="217.47" width="2.50" height="4.2" rx="0.6" fill="#3DB234"/>
<rect x="91.20" y="217.47" width="3.20" height="4.2" rx="0.6" fill="#B4643C"/>
<rect x="94.10" y="217.47" width="6.90" height="4.2" rx="0.6" fill="#3DB234"/>
<rect x="100.70" y="217.47" width="3.90" height="4.2" rx="0.6" fill="#DC00B4"/>
<rect x="104.30" y="217.47" width="4.00" height="4.2" rx="0.6" fill="#5A5AA0"/>
<rect x="108.00" y="217.47" width="4.20" height="4.2" rx="0.6" fill="#1428FF"/>
<rect x="116.60" y="217.47" width="4.10" height="4.2" rx="0.6" fill="#00857A"/>
<rect x="120.40" y="217.47" width="4.30" height="4.2" rx="0.6" fill="#3DB234"/>
<rect x="144.70" y="217.47" width="3.80" height="4.2" rx="0.6" fill="#A0DC8C"/>
<rect x="152.20" y="217.47" width="3.90" height="4.2" rx="0.6" fill="#3DB234"/>
<rect x="172.50" y="217.47" width="3.80" height="4.2" rx="0.6" fill="#5A7814"/>
<rect x="176.00" y="217.47" width="3.80" height="4.2" rx="0.6" fill="#640000"/>
<rect x="180.90" y="217.47" width="4.10" height="4.2" rx="0.6" fill="#00857A"/>
<rect x="184.70" y="217.47" width="4.10" height="4.2" rx="0.6" fill="#F5508C"/>
<rect x="207.90" y="217.47" width="4.00" height="4.2" rx="0.6" fill="#5A2800"/>
<line x1="53.8" y1="225.89" x2="212.3" y2="225.89" stroke="#B6B6B6" stroke-width="0.8"/>
<rect x="60.80" y="223.79" width="4.40" height="4.2" rx="0.6" fill="#6A3D9A"/>
<rect x="64.90" y="223.79" width="3.90" height="4.2" rx="0.6" fill="#3DB234"/>
<rect x="86.80" y="223.79" width="3.90" height="4.2" rx="0.6" fill="#FF82AA"/>
<rect x="94.80" y="223.79" width="3.70" height="4.2" rx="0.6" fill="#3DB234"/>
<rect x="103.20" y="223.79" width="4.10" height="4.2" rx="0.6" fill="#006400"/>
<rect x="110.90" y="223.79" width="4.00" height="4.2" rx="0.6" fill="#9A8CB8"/>
<rect x="116.80" y="223.79" width="3.90" height="4.2" rx="0.6" fill="#00857A"/>
<rect x="125.50" y="223.79" width="4.00" height="4.2" rx="0.6" fill="#FFB48C"/>
<rect x="136.90" y="223.79" width="4.00" height="4.2" rx="0.6" fill="#7D8F72"/>
<rect x="144.20" y="223.79" width="3.10" height="4.2" rx="0.6" fill="#FFB48C"/>
<rect x="147.30" y="223.79" width="3.80" height="4.2" rx="0.6" fill="#3DB234"/>
<rect x="151.90" y="223.79" width="4.20" height="4.2" rx="0.6" fill="#00AAF0"/>
<rect x="169.40" y="223.79" width="4.10" height="4.2" rx="0.6" fill="#1428FF"/>
<rect x="183.20" y="223.79" width="3.80" height="4.2" rx="0.6" fill="#9A8CB8"/>
<line x1="53.8" y1="232.21" x2="212.3" y2="232.21" stroke="#B6B6B6" stroke-width="0.8"/>
<rect x="53.80" y="230.11" width="2.90" height="4.2" rx="0.6" fill="#3DB234"/>
<rect x="63.00" y="230.11" width="2.90" height="4.2" rx="0.6" fill="#3DB234"/>
<rect x="65.60" y="230.11" width="3.50" height="4.2" rx="0.6" fill="#FFB48C"/>
<rect x="72.00" y="230.11" width="4.10" height="4.2" rx="0.6" fill="#00857A"/>
<rect x="86.80" y="230.11" width="3.50" height="4.2" rx="0.6" fill="#3DB234"/>
<rect x="90.00" y="230.11" width="4.00" height="4.2" rx="0.6" fill="#FFA000"/>
<rect x="103.90" y="230.11" width="3.90" height="4.2" rx="0.6" fill="#3DB234"/>
<rect x="114.60" y="230.11" width="3.90" height="4.2" rx="0.6" fill="#3DB234"/>
<rect x="118.50" y="230.11" width="4.40" height="4.2" rx="0.6" fill="#FF0019"/>
<rect x="122.60" y="230.11" width="2.50" height="4.2" rx="0.6" fill="#3DB234"/>
<rect x="124.80" y="230.11" width="2.50" height="4.2" rx="0.6" fill="#0A6ED2"/>
<rect x="127.00" y="230.11" width="3.20" height="4.2" rx="0.6" fill="#00857A"/>
<rect x="130.00" y="230.11" width="4.70" height="4.2" rx="0.6" fill="#3DB234"/>
<rect x="140.70" y="230.11" width="4.00" height="4.2" rx="0.6" fill="#FFA000"/>
<rect x="161.00" y="230.11" width="3.50" height="4.2" rx="0.6" fill="#2814E6"/>
<rect x="164.50" y="230.11" width="3.40" height="4.2" rx="0.6" fill="#A0DC8C"/>
<rect x="167.90" y="230.11" width="3.30" height="4.2" rx="0.6" fill="#640000"/>
<rect x="172.90" y="230.11" width="3.80" height="4.2" rx="0.6" fill="#F5508C"/>
<rect x="179.80" y="230.11" width="4.10" height="4.2" rx="0.6" fill="#7D8F72"/>
<rect x="197.70" y="230.11" width="4.10" height="4.2" rx="0.6" fill="#3DB234"/>
<line x1="53.8" y1="238.54" x2="212.3" y2="238.54" stroke="#B6B6B6" stroke-width="0.8"/>
<rect x="54.60" y="236.44" width="4.00" height="4.2" rx="0.6" fill="#3DB234"/>
<rect x="73.20" y="236.44" width="3.90" height="4.2" rx="0.6" fill="#00AAF0"/>
<rect x="80.90" y="236.44" width="4.30" height="4.2" rx="0.6" fill="#FFA000"/>
<rect x="85.90" y="236.44" width="5.90" height="4.2" rx="0.6" fill="#5A1E1E"/>
<rect x="102.70" y="236.44" width="3.70" height="4.2" rx="0.6" fill="#12B98C"/>
<rect x="135.50" y="236.44" width="3.80" height="4.2" rx="0.6" fill="#5A5AA0"/>
<rect x="157.20" y="236.44" width="4.10" height="4.2" rx="0.6" fill="#FFB48C"/>
<rect x="169.10" y="236.44" width="3.80" height="4.2" rx="0.6" fill="#640000"/>
<rect x="182.90" y="236.44" width="4.10" height="4.2" rx="0.6" fill="#A0DC8C"/>
<rect x="187.00" y="236.44" width="3.30" height="4.2" rx="0.6" fill="#7A5020"/>
<rect x="190.00" y="236.44" width="4.20" height="4.2" rx="0.6" fill="#F5508C"/>
<rect x="194.00" y="236.44" width="1.90" height="4.2" rx="0.6" fill="#640000"/>
<rect x="195.80" y="236.44" width="3.90" height="4.2" rx="0.6" fill="#3DB234"/>
<line x1="53.8" y1="244.86" x2="212.3" y2="244.86" stroke="#B6B6B6" stroke-width="0.8"/>
<rect x="72.00" y="242.76" width="3.80" height="4.2" rx="0.6" fill="#12B98C"/>
<rect x="95.10" y="242.76" width="3.70" height="4.2" rx="0.6" fill="#3DB234"/>
<rect x="98.50" y="242.76" width="2.80" height="4.2" rx="0.6" fill="#6A3D9A"/>
<rect x="101.70" y="242.76" width="5.60" height="4.2" rx="0.6" fill="#00F0F0"/>
<rect x="106.80" y="242.76" width="4.40" height="4.2" rx="0.6" fill="#3DB234"/>
<rect x="110.90" y="242.76" width="2.80" height="4.2" rx="0.6" fill="#E8521E"/>
<rect x="140.70" y="242.76" width="4.30" height="4.2" rx="0.6" fill="#F0AA00"/>
<rect x="144.70" y="242.76" width="3.30" height="4.2" rx="0.6" fill="#5A5AA0"/>
<rect x="169.70" y="242.76" width="3.80" height="4.2" rx="0.6" fill="#F5508C"/>
<rect x="183.90" y="242.76" width="4.60" height="4.2" rx="0.6" fill="#00F0F0"/>
<rect x="188.80" y="242.76" width="4.30" height="4.2" rx="0.6" fill="#1428FF"/>
<rect x="192.80" y="242.76" width="1.80" height="4.2" rx="0.6" fill="#F5508C"/>
<line x1="53.8" y1="251.18" x2="212.3" y2="251.18" stroke="#B6B6B6" stroke-width="0.8"/>
<rect x="60.80" y="249.08" width="4.40" height="4.2" rx="0.6" fill="#1428FF"/>
<rect x="67.00" y="249.08" width="3.70" height="4.2" rx="0.6" fill="#FF82AA"/>
<rect x="78.80" y="249.08" width="8.30" height="4.2" rx="0.6" fill="#7D8F72"/>
<rect x="86.80" y="249.08" width="3.70" height="4.2" rx="0.6" fill="#3DB234"/>
<rect x="92.60" y="249.08" width="4.00" height="4.2" rx="0.6" fill="#3DB234"/>
<rect x="110.00" y="249.08" width="4.10" height="4.2" rx="0.6" fill="#640000"/>
<rect x="116.80" y="249.08" width="4.20" height="4.2" rx="0.6" fill="#5A5AA0"/>
<rect x="135.80" y="249.08" width="3.80" height="4.2" rx="0.6" fill="#12B98C"/>
<rect x="145.00" y="249.08" width="4.10" height="4.2" rx="0.6" fill="#3DB234"/>
<rect x="164.10" y="249.08" width="4.60" height="4.2" rx="0.6" fill="#FF0019"/>
<rect x="168.30" y="249.08" width="2.60" height="4.2" rx="0.6" fill="#B4643C"/>
<rect x="183.50" y="249.08" width="3.50" height="4.2" rx="0.6" fill="#7D8F72"/>
<rect x="190.50" y="249.08" width="4.10" height="4.2" rx="0.6" fill="#FF82AA"/>
<line x1="53.8" y1="257.51" x2="212.3" y2="257.51" stroke="#B6B6B6" stroke-width="0.8"/>
<rect x="67.00" y="255.41" width="4.40" height="4.2" rx="0.6" fill="#FF32C8"/>
<rect x="90.30" y="255.41" width="4.10" height="4.2" rx="0.6" fill="#00857A"/>
<rect x="101.70" y="255.41" width="4.00" height="4.2" rx="0.6" fill="#3DB234"/>
<rect x="108.30" y="255.41" width="3.60" height="4.2" rx="0.6" fill="#7D8F72"/>
<rect x="111.60" y="255.41" width="3.70" height="4.2" rx="0.6" fill="#00F082"/>
<rect x="116.30" y="255.41" width="4.10" height="4.2" rx="0.6" fill="#7D8F72"/>
<rect x="120.40" y="255.41" width="4.00" height="4.2" rx="0.6" fill="#DC0000"/>
<rect x="139.30" y="255.41" width="4.20" height="4.2" rx="0.6" fill="#00F082"/>
<rect x="156.40" y="255.41" width="2.80" height="4.2" rx="0.6" fill="#640000"/>
<rect x="158.70" y="255.41" width="3.40" height="4.2" rx="0.6" fill="#7D8F72"/>
<rect x="168.20" y="255.41" width="4.00" height="4.2" rx="0.6" fill="#006400"/>
<rect x="177.50" y="255.41" width="3.70" height="4.2" rx="0.6" fill="#FFB48C"/>
<rect x="180.90" y="255.41" width="2.30" height="4.2" rx="0.6" fill="#3DB234"/>
<rect x="188.80" y="255.41" width="3.80" height="4.2" rx="0.6" fill="#7D8F72"/>
<rect x="204.20" y="255.41" width="3.80" height="4.2" rx="0.6" fill="#5A5AA0"/>
<rect x="207.90" y="255.41" width="1.50" height="4.2" rx="0.6" fill="#F5508C"/>
<line x1="53.8" y1="263.83" x2="212.3" y2="263.83" stroke="#B6B6B6" stroke-width="0.8"/>
<rect x="57.10" y="261.73" width="4.00" height="4.2" rx="0.6" fill="#9A8CB8"/>
<rect x="64.40" y="261.73" width="4.10" height="4.2" rx="0.6" fill="#3DB234"/>
<rect x="85.90" y="261.73" width="3.80" height="4.2" rx="0.6" fill="#3DB234"/>
<rect x="91.90" y="261.73" width="4.00" height="4.2" rx="0.6" fill="#E8521E"/>
<rect x="96.90" y="261.73" width="3.80" height="4.2" rx="0.6" fill="#9A8CB8"/>
<rect x="124.40" y="261.73" width="4.40" height="4.2" rx="0.6" fill="#00F0F0"/>
<rect x="129.20" y="261.73" width="2.80" height="4.2" rx="0.6" fill="#7D8F72"/>
<rect x="132.00" y="261.73" width="1.50" height="4.2" rx="0.6" fill="#FFB48C"/>
<rect x="138.10" y="261.73" width="4.10" height="4.2" rx="0.6" fill="#00F0F0"/>
<rect x="141.90" y="261.73" width="3.80" height="4.2" rx="0.6" fill="#B4643C"/>
<rect x="155.40" y="261.73" width="4.40" height="4.2" rx="0.6" fill="#C8826E"/>
<rect x="172.20" y="261.73" width="4.10" height="4.2" rx="0.6" fill="#F5508C"/>
<rect x="176.00" y="261.73" width="5.20" height="4.2" rx="0.6" fill="#3DB234"/>
<rect x="186.20" y="261.73" width="4.10" height="4.2" rx="0.6" fill="#F5508C"/>
<rect x="202.70" y="261.73" width="3.80" height="4.2" rx="0.6" fill="#7D8F72"/>
<line x1="53.8" y1="270.15" x2="212.3" y2="270.15" stroke="#B6B6B6" stroke-width="0.8"/>
<rect x="65.90" y="268.05" width="3.90" height="4.2" rx="0.6" fill="#7D8F72"/>
<rect x="71.00" y="268.05" width="9.10" height="4.2" rx="0.6" fill="#3DB234"/>
<rect x="82.00" y="268.05" width="1.90" height="4.2" rx="0.6" fill="#5A1E1E"/>
<rect x="83.90" y="268.05" width="4.20" height="4.2" rx="0.6" fill="#1428FF"/>
<rect x="92.90" y="268.05" width="4.10" height="4.2" rx="0.6" fill="#F5508C"/>
<rect x="100.20" y="268.05" width="4.00" height="4.2" rx="0.6" fill="#7D8F72"/>
<rect x="104.60" y="268.05" width="4.10" height="4.2" rx="0.6" fill="#006400"/>
<rect x="110.90" y="268.05" width="4.00" height="4.2" rx="0.6" fill="#FF82AA"/>
<rect x="114.60" y="268.05" width="3.50" height="4.2" rx="0.6" fill="#7D8F72"/>
<rect x="122.60" y="268.05" width="7.60" height="4.2" rx="0.6" fill="#DC0000"/>
<rect x="130.20" y="268.05" width="3.30" height="4.2" rx="0.6" fill="#1428FF"/>
<rect x="133.30" y="268.05" width="2.40" height="4.2" rx="0.6" fill="#640000"/>
<rect x="135.50" y="268.05" width="3.80" height="4.2" rx="0.6" fill="#7D8F72"/>
<rect x="145.30" y="268.05" width="3.80" height="4.2" rx="0.6" fill="#3DB234"/>
<rect x="156.90" y="268.05" width="4.10" height="4.2" rx="0.6" fill="#F0AA00"/>
<rect x="173.50" y="268.05" width="4.00" height="4.2" rx="0.6" fill="#7D8F72"/>
<rect x="181.60" y="268.05" width="3.90" height="4.2" rx="0.6" fill="#2814E6"/>
<rect x="185.10" y="268.05" width="2.90" height="4.2" rx="0.6" fill="#3DB234"/>
<rect x="189.30" y="268.05" width="4.60" height="4.2" rx="0.6" fill="#00F0F0"/>
<rect x="195.80" y="268.05" width="3.40" height="4.2" rx="0.6" fill="#9A8CB8"/>
<rect x="198.90" y="268.05" width="2.10" height="4.2" rx="0.6" fill="#FFA000"/>
<line x1="53.2" y1="279.3" x2="212.5" y2="279.3" stroke="#B0B0B0" stroke-width="0.8"/>
<line x1="54.50" y1="278.3" x2="54.50" y2="280.3" stroke="#B0B0B0" stroke-width="0.5"/>
<text x="54.50" y="284.5" font-size="4" text-anchor="middle" fill="#333" stroke="#333" stroke-width="0.1">0</text>
<line x1="70.25" y1="278.3" x2="70.25" y2="280.3" stroke="#B0B0B0" stroke-width="0.5"/>
<text x="70.25" y="284.5" font-size="4" text-anchor="middle" fill="#333" stroke="#333" stroke-width="0.1">200</text>
<line x1="86.00" y1="278.3" x2="86.00" y2="280.3" stroke="#B0B0B0" stroke-width="0.5"/>
<text x="86.00" y="284.5" font-size="4" text-anchor="middle" fill="#333" stroke="#333" stroke-width="0.1">400</text>
<line x1="101.75" y1="278.3" x2="101.75" y2="280.3" stroke="#B0B0B0" stroke-width="0.5"/>
<text x="101.75" y="284.5" font-size="4" text-anchor="middle" fill="#333" stroke="#333" stroke-width="0.1">600</text>
<line x1="117.50" y1="278.3" x2="117.50" y2="280.3" stroke="#B0B0B0" stroke-width="0.5"/>
<text x="117.50" y="284.5" font-size="4" text-anchor="middle" fill="#333" stroke="#333" stroke-width="0.1">800</text>
<line x1="133.25" y1="278.3" x2="133.25" y2="280.3" stroke="#B0B0B0" stroke-width="0.5"/>
<text x="133.25" y="284.5" font-size="4" text-anchor="middle" fill="#333" stroke="#333" stroke-width="0.1">1000</text>
<line x1="149.00" y1="278.3" x2="149.00" y2="280.3" stroke="#B0B0B0" stroke-width="0.5"/>
<text x="149.00" y="284.5" font-size="4" text-anchor="middle" fill="#333" stroke="#333" stroke-width="0.1">1200</text>
<line x1="164.75" y1="278.3" x2="164.75" y2="280.3" stroke="#B0B0B0" stroke-width="0.5"/>
<text x="164.75" y="284.5" font-size="4" text-anchor="middle" fill="#333" stroke="#333" stroke-width="0.1">1400</text>
<line x1="180.50" y1="278.3" x2="180.50" y2="280.3" stroke="#B0B0B0" stroke-width="0.5"/>
<text x="180.50" y="284.5" font-size="4" text-anchor="middle" fill="#333" stroke="#333" stroke-width="0.1">1600</text>
<line x1="196.25" y1="278.3" x2="196.25" y2="280.3" stroke="#B0B0B0" stroke-width="0.5"/>
<text x="196.25" y="284.5" font-size="4" text-anchor="middle" fill="#333" stroke="#333" stroke-width="0.1">1800</text>
<line x1="212.00" y1="278.3" x2="212.00" y2="280.3" stroke="#B0B0B0" stroke-width="0.5"/>
<text x="212.00" y="284.5" font-size="4" text-anchor="middle" fill="#333" stroke="#333" stroke-width="0.1">2000</text>
<text x="50" y="279.4" font-size="3.4" fill="#222">5'</text>
<text x="212.6" y="279.2" font-size="3.4" fill="#222">3'</text>
<rect x="43.70" y="293.10" width="10.4" height="3.8" fill="#3DB234"/>
<text x="56.20" y="296.65" font-size="4.45" fill="#222" stroke="#222" stroke-width="0.12">Box 4</text>
<rect x="43.70" y="299.53" width="10.4" height="3.8" fill="#FFCC00"/>
<text x="56.20" y="303.08" font-size="4.45" fill="#222" stroke="#222" stroke-width="0.12">Sp1</text>
<rect x="43.70" y="305.96" width="10.4" height="3.8" fill="#F5508C"/>
<text x="56.20" y="309.51" font-size="4.45" fill="#222" stroke="#222" stroke-width="0.12">GT1-motif</text>
<rect x="43.70" y="312.39" width="10.4" height="3.8" fill="#00857A"/>
<text x="56.20" y="315.94" font-size="4.45" fill="#222" stroke="#222" stroke-width="0.12">G-box</text>
<rect x="43.70" y="318.82" width="10.4" height="3.8" fill="#FF0019"/>
<text x="56.20" y="322.37" font-size="4.45" fill="#222" stroke="#222" stroke-width="0.12">LAMP-element</text>
<rect x="43.70" y="325.25" width="10.4" height="3.8" fill="#9A8CB8"/>
<text x="56.20" y="328.80" font-size="4.45" fill="#222" stroke="#222" stroke-width="0.12">CGTCA-motif</text>
<rect x="43.70" y="331.68" width="10.4" height="3.8" fill="#A0DC8C"/>
<text x="56.20" y="335.23" font-size="4.45" fill="#222" stroke="#222" stroke-width="0.12">TGACG-motif</text>
<rect x="43.70" y="338.11" width="10.4" height="3.8" fill="#FFA000"/>
<text x="56.20" y="341.66" font-size="4.45" fill="#222" stroke="#222" stroke-width="0.12">TCA-element</text>
<rect x="43.70" y="344.54" width="10.4" height="3.8" fill="#6A3D9A"/>
<text x="56.20" y="348.09" font-size="4.45" fill="#222" stroke="#222" stroke-width="0.12">circadian</text>
<rect x="43.70" y="350.97" width="10.4" height="3.8" fill="#FFB48C"/>
<text x="56.20" y="354.52" font-size="4.45" fill="#222" stroke="#222" stroke-width="0.12">MBS</text>
<rect x="43.70" y="357.40" width="10.4" height="3.8" fill="#7D8F72"/>
<text x="56.20" y="360.95" font-size="4.45" fill="#222" stroke="#222" stroke-width="0.12">ARE</text>
<rect x="91.20" y="293.10" width="10.4" height="3.8" fill="#E8521E"/>
<text x="103.40" y="296.65" font-size="4.45" fill="#222" stroke="#222" stroke-width="0.12">TC-rich repeats</text>
<rect x="91.20" y="299.53" width="10.4" height="3.8" fill="#12B98C"/>
<text x="103.40" y="303.08" font-size="4.45" fill="#222" stroke="#222" stroke-width="0.12">ABRE</text>
<rect x="91.20" y="305.96" width="10.4" height="3.8" fill="#FF82AA"/>
<text x="103.40" y="309.51" font-size="4.45" fill="#222" stroke="#222" stroke-width="0.12">TCT-motif</text>
<rect x="91.20" y="312.39" width="10.4" height="3.8" fill="#0A6ED2"/>
<text x="103.40" y="315.94" font-size="4.45" fill="#222" stroke="#222" stroke-width="0.12">I-box</text>
<rect x="91.20" y="318.82" width="10.4" height="3.8" fill="#DC0000"/>
<text x="103.40" y="322.37" font-size="4.45" fill="#222" stroke="#222" stroke-width="0.12">MRE</text>
<rect x="91.20" y="325.25" width="10.4" height="3.8" fill="#640000"/>
<text x="103.40" y="328.80" font-size="4.45" fill="#222" stroke="#222" stroke-width="0.12">LTR</text>
<rect x="91.20" y="331.68" width="10.4" height="3.8" fill="#5A7814"/>
<text x="103.40" y="335.23" font-size="4.45" fill="#222" stroke="#222" stroke-width="0.12">TGA-element</text>
<rect x="91.20" y="338.11" width="10.4" height="3.8" fill="#0A0A46"/>
<text x="103.40" y="341.66" font-size="4.45" fill="#222" stroke="#222" stroke-width="0.12">GTGGC-motif</text>
<rect x="91.20" y="344.54" width="10.4" height="3.8" fill="#B4643C"/>
<text x="103.40" y="348.09" font-size="4.45" fill="#222" stroke="#222" stroke-width="0.12">GATA-motif</text>
<rect x="91.20" y="350.97" width="10.4" height="3.8" fill="#00AAF0"/>
<text x="103.40" y="354.52" font-size="4.45" fill="#222" stroke="#222" stroke-width="0.12">CCAAT-box</text>
<rect x="91.20" y="357.40" width="10.4" height="3.8" fill="#1428FF"/>
<text x="103.40" y="360.95" font-size="4.45" fill="#222" stroke="#222" stroke-width="0.12">AT-rich element</text>
<rect x="138.90" y="290.00" width="10.4" height="3.8" fill="#006400"/>
<text x="151.10" y="293.55" font-size="4.45" fill="#222" stroke="#222" stroke-width="0.12">O2-site</text>
<rect x="138.90" y="296.40" width="10.4" height="3.8" fill="#FF5046"/>
<text x="151.10" y="299.95" font-size="4.45" fill="#222" stroke="#222" stroke-width="0.12">GCN4_motif</text>
<rect x="138.90" y="302.80" width="10.4" height="3.8" fill="#0A78C8"/>
<text x="151.10" y="306.35" font-size="4.45" fill="#222" stroke="#222" stroke-width="0.12">GA-motif</text>
<rect x="138.90" y="309.20" width="10.4" height="3.8" fill="#FF32C8"/>
<text x="151.10" y="312.75" font-size="4.45" fill="#222" stroke="#222" stroke-width="0.12">Box III</text>
<rect x="138.90" y="315.60" width="10.4" height="3.8" fill="#2814E6"/>
<text x="151.10" y="319.15" font-size="4.45" fill="#222" stroke="#222" stroke-width="0.12">CAT-box</text>
<rect x="138.90" y="322.00" width="10.4" height="3.8" fill="#5A1E1E"/>
<text x="151.10" y="325.55" font-size="4.45" fill="#222" stroke="#222" stroke-width="0.12">AE-box</text>
<rect x="138.90" y="328.40" width="10.4" height="3.8" fill="#F0AA00"/>
<text x="151.10" y="331.95" font-size="4.45" fill="#222" stroke="#222" stroke-width="0.12">ATC-motif</text>
<rect x="138.90" y="334.80" width="10.4" height="3.8" fill="#7A5020"/>
<text x="151.10" y="338.35" font-size="4.45" fill="#222" stroke="#222" stroke-width="0.12">AuxRR-core</text>
<rect x="138.90" y="341.20" width="10.4" height="3.8" fill="#5A5AA0"/>
<text x="151.10" y="344.75" font-size="4.45" fill="#222" stroke="#222" stroke-width="0.12">ATCT-motif</text>
<rect x="138.90" y="347.60" width="10.4" height="3.8" fill="#00F0F0"/>
<text x="151.10" y="351.15" font-size="4.45" fill="#222" stroke="#222" stroke-width="0.12">G-Box</text>
<rect x="138.90" y="354.00" width="10.4" height="3.8" fill="#14AA3C"/>
<text x="151.10" y="357.55" font-size="4.45" fill="#222" stroke="#222" stroke-width="0.12">chs-CMA1a</text>
<rect x="138.90" y="360.40" width="10.4" height="3.8" fill="#8C0046"/>
<text x="151.10" y="363.95" font-size="4.45" fill="#222" stroke="#222" stroke-width="0.12">AACA_motif</text>
<rect x="182.00" y="290.00" width="10.4" height="3.8" fill="#E68CD2"/>
<text x="194.30" y="293.55" font-size="4.45" fill="#222" stroke="#222" stroke-width="0.12">TCCC-motif</text>
<rect x="182.00" y="296.40" width="10.4" height="3.8" fill="#A05A28"/>
<text x="194.30" y="299.95" font-size="4.45" fill="#222" stroke="#222" stroke-width="0.12">RY-element</text>
<rect x="182.00" y="302.80" width="10.4" height="3.8" fill="#AA325A"/>
<text x="194.30" y="306.35" font-size="4.45" fill="#222" stroke="#222" stroke-width="0.12">LS7</text>
<rect x="182.00" y="309.20" width="10.4" height="3.8" fill="#5A2800"/>
<text x="194.30" y="312.75" font-size="4.45" fill="#222" stroke="#222" stroke-width="0.12">GARE-motif</text>
<rect x="182.00" y="315.60" width="10.4" height="3.8" fill="#DC00B4"/>
<text x="194.30" y="319.15" font-size="4.45" fill="#222" stroke="#222" stroke-width="0.12">3-AF3 binding site</text>
<rect x="182.00" y="322.00" width="10.4" height="3.8" fill="#C8826E"/>
<text x="194.30" y="325.55" font-size="4.45" fill="#222" stroke="#222" stroke-width="0.12">AAAC-motif</text>
<rect x="182.00" y="328.40" width="10.4" height="3.8" fill="#0A4696"/>
<text x="194.30" y="331.95" font-size="4.45" fill="#222" stroke="#222" stroke-width="0.12">HD-Zip 1</text>
<rect x="182.00" y="334.80" width="10.4" height="3.8" fill="#FF96BE"/>
<text x="194.30" y="338.35" font-size="4.45" fill="#222" stroke="#222" stroke-width="0.12">Box II</text>
<rect x="182.00" y="341.20" width="10.4" height="3.8" fill="#00F082"/>
<text x="194.30" y="344.75" font-size="4.45" fill="#222" stroke="#222" stroke-width="0.12">GC-motif</text>
<rect x="182.00" y="347.60" width="10.4" height="3.8" fill="#FF28C8"/>
<text x="194.30" y="351.15" font-size="4.45" fill="#222" stroke="#222" stroke-width="0.12">AT1-motif</text>
<rect x="182.00" y="354.00" width="10.4" height="3.8" fill="#AAA08C"/>
<text x="194.30" y="357.55" font-size="4.45" fill="#222" stroke="#222" stroke-width="0.12">ACE</text>
<rect x="182.00" y="360.40" width="10.4" height="3.8" fill="#1EC850"/>
<text x="194.30" y="363.95" font-size="4.45" fill="#222" stroke="#222" stroke-width="0.12">TGA-box</text>
</g>
<g id="panelB">
<text x="223.5" y="68.8" font-size="8.1" text-anchor="middle" fill="#000">B</text>
<rect x="224.20" y="77.50" width="141.39" height="195.70" fill="#DEDEDE"/>
<rect x="251.13" y="77.50" width="6.73" height="6.31" fill="#FFFFFF"/>
<rect x="305.00" y="77.50" width="6.73" height="6.31" fill="#FFFFFF"/>
<rect x="244.40" y="83.81" width="6.73" height="6.31" fill="#FFFFFF"/>
<rect x="298.26" y="83.81" width="6.73" height="6.31" fill="#FFFFFF"/>
<rect x="311.73" y="83.81" width="6.73" height="6.31" fill="#FFFFFF"/>
<rect x="318.46" y="83.81" width="6.73" height="6.31" fill="#FFFFFF"/>
<rect x="325.19" y="83.81" width="6.73" height="6.31" fill="#FFFFFF"/>
<rect x="331.93" y="83.81" width="6.73" height="6.31" fill="#FFFFFF"/>
<rect x="352.13" y="83.81" width="6.73" height="6.31" fill="#FFFFFF"/>
<rect x="224.20" y="90.13" width="6.73" height="6.31" fill="#FFFFFF"/>
<rect x="230.93" y="90.13" width="6.73" height="6.31" fill="#FFFFFF"/>
<rect x="257.87" y="90.13" width="6.73" height="6.31" fill="#FFFFFF"/>
<rect x="291.53" y="90.13" width="6.73" height="6.31" fill="#FFFFFF"/>
<rect x="352.13" y="90.13" width="6.73" height="6.31" fill="#FFFFFF"/>
<rect x="318.46" y="96.44" width="6.73" height="6.31" fill="#FFFFFF"/>
<rect x="331.93" y="96.44" width="6.73" height="6.31" fill="#FFFFFF"/>
<rect x="352.13" y="96.44" width="6.73" height="6.31" fill="#FFFFFF"/>
<rect x="224.20" y="102.75" width="6.73" height="6.31" fill="#FFFFFF"/>
<rect x="244.40" y="102.75" width="6.73" height="6.31" fill="#FFFFFF"/>
<rect x="298.26" y="102.75" width="6.73" height="6.31" fill="#FFFFFF"/>
<rect x="305.00" y="102.75" width="6.73" height="6.31" fill="#FFFFFF"/>
<rect x="318.46" y="102.75" width="6.73" height="6.31" fill="#FFFFFF"/>
<rect x="325.19" y="102.75" width="6.73" height="6.31" fill="#FFFFFF"/>
<rect x="230.93" y="109.06" width="6.73" height="6.31" fill="#FFFFFF"/>
<rect x="251.13" y="109.06" width="6.73" height="6.31" fill="#FFFFFF"/>
<rect x="305.00" y="109.06" width="6.73" height="6.31" fill="#FFFFFF"/>
<rect x="352.13" y="109.06" width="6.73" height="6.31" fill="#FFFFFF"/>
<rect x="224.20" y="115.38" width="6.73" height="6.31" fill="#FFFFFF"/>
<rect x="331.93" y="115.38" width="6.73" height="6.31" fill="#FFFFFF"/>
<rect x="352.13" y="115.38" width="6.73" height="6.31" fill="#FFFFFF"/>
<rect x="318.46" y="121.69" width="6.73" height="6.31" fill="#FFFFFF"/>
<rect x="244.40" y="128.00" width="6.73" height="6.31" fill="#FFFFFF"/>
<rect x="257.87" y="128.00" width="6.73" height="6.31" fill="#FFFFFF"/>
<rect x="291.53" y="128.00" width="6.73" height="6.31" fill="#FFFFFF"/>
<rect x="305.00" y="128.00" width="6.73" height="6.31" fill="#FFFFFF"/>
<rect x="224.20" y="134.32" width="6.73" height="6.31" fill="#FFFFFF"/>
<rect x="291.53" y="134.32" width="6.73" height="6.31" fill="#FFFFFF"/>
<rect x="298.26" y="134.32" width="6.73" height="6.31" fill="#FFFFFF"/>
<rect x="305.00" y="134.32" width="6.73" height="6.31" fill="#FFFFFF"/>
<rect x="331.93" y="134.32" width="6.73" height="6.31" fill="#FFFFFF"/>
<rect x="271.33" y="140.63" width="6.73" height="6.31" fill="#FFFFFF"/>
<rect x="284.80" y="140.63" width="6.73" height="6.31" fill="#FFFFFF"/>
<rect x="298.26" y="140.63" width="6.73" height="6.31" fill="#FFFFFF"/>
<rect x="318.46" y="140.63" width="6.73" height="6.31" fill="#FFFFFF"/>
<rect x="331.93" y="140.63" width="6.73" height="6.31" fill="#FFFFFF"/>
<rect x="271.33" y="146.94" width="6.73" height="6.31" fill="#FFFFFF"/>
<rect x="257.87" y="153.26" width="6.73" height="6.31" fill="#FFFFFF"/>
<rect x="338.66" y="153.26" width="6.73" height="6.31" fill="#FFFFFF"/>
<rect x="352.13" y="153.26" width="6.73" height="6.31" fill="#FFFFFF"/>
<rect x="237.67" y="159.57" width="6.73" height="6.31" fill="#FFFFFF"/>
<rect x="291.53" y="159.57" width="6.73" height="6.31" fill="#FFFFFF"/>
<rect x="325.19" y="159.57" width="6.73" height="6.31" fill="#FFFFFF"/>
<rect x="338.66" y="159.57" width="6.73" height="6.31" fill="#FFFFFF"/>
<rect x="352.13" y="159.57" width="6.73" height="6.31" fill="#FFFFFF"/>
<rect x="244.40" y="165.88" width="6.73" height="6.31" fill="#FFFFFF"/>
<rect x="257.87" y="165.88" width="6.73" height="6.31" fill="#FFFFFF"/>
<rect x="271.33" y="165.88" width="6.73" height="6.31" fill="#FFFFFF"/>
<rect x="305.00" y="165.88" width="6.73" height="6.31" fill="#FFFFFF"/>
<rect x="318.46" y="165.88" width="6.73" height="6.31" fill="#FFFFFF"/>
<rect x="331.93" y="165.88" width="6.73" height="6.31" fill="#FFFFFF"/>
<rect x="338.66" y="165.88" width="6.73" height="6.31" fill="#FFFFFF"/>
<rect x="352.13" y="165.88" width="6.73" height="6.31" fill="#FFFFFF"/>
<rect x="278.06" y="172.19" width="6.73" height="6.31" fill="#FFFFFF"/>
<rect x="331.93" y="172.19" width="6.73" height="6.31" fill="#FFFFFF"/>
<rect x="338.66" y="172.19" width="6.73" height="6.31" fill="#FFFFFF"/>
<rect x="352.13" y="172.19" width="6.73" height="6.31" fill="#FFFFFF"/>
<rect x="251.13" y="178.51" width="6.73" height="6.31" fill="#FFFFFF"/>
<rect x="257.87" y="178.51" width="6.73" height="6.31" fill="#FFFFFF"/>
<rect x="291.53" y="178.51" width="6.73" height="6.31" fill="#FFFFFF"/>
<rect x="298.26" y="178.51" width="6.73" height="6.31" fill="#FFFFFF"/>
<rect x="305.00" y="178.51" width="6.73" height="6.31" fill="#FFFFFF"/>
<rect x="325.19" y="178.51" width="6.73" height="6.31" fill="#FFFFFF"/>
<rect x="291.53" y="184.82" width="6.73" height="6.31" fill="#FFFFFF"/>
<rect x="298.26" y="184.82" width="6.73" height="6.31" fill="#FFFFFF"/>
<rect x="305.00" y="184.82" width="6.73" height="6.31" fill="#FFFFFF"/>
<rect x="352.13" y="184.82" width="6.73" height="6.31" fill="#FFFFFF"/>
<rect x="230.93" y="191.13" width="6.73" height="6.31" fill="#FFFFFF"/>
<rect x="257.87" y="191.13" width="6.73" height="6.31" fill="#FFFFFF"/>
<rect x="291.53" y="191.13" width="6.73" height="6.31" fill="#FFFFFF"/>
<rect x="298.26" y="191.13" width="6.73" height="6.31" fill="#FFFFFF"/>
<rect x="318.46" y="191.13" width="6.73" height="6.31" fill="#FFFFFF"/>
<rect x="224.20" y="197.45" width="6.73" height="6.31" fill="#FFFFFF"/>
<rect x="230.93" y="197.45" width="6.73" height="6.31" fill="#FFFFFF"/>
<rect x="318.46" y="197.45" width="6.73" height="6.31" fill="#FFFFFF"/>
<rect x="298.26" y="203.76" width="6.73" height="6.31" fill="#FFFFFF"/>
<rect x="325.19" y="203.76" width="6.73" height="6.31" fill="#FFFFFF"/>
<rect x="331.93" y="203.76" width="6.73" height="6.31" fill="#FFFFFF"/>
<rect x="338.66" y="203.76" width="6.73" height="6.31" fill="#FFFFFF"/>
<rect x="244.40" y="210.07" width="6.73" height="6.31" fill="#FFFFFF"/>
<rect x="305.00" y="210.07" width="6.73" height="6.31" fill="#FFFFFF"/>
<rect x="311.73" y="210.07" width="6.73" height="6.31" fill="#FFFFFF"/>
<rect x="318.46" y="210.07" width="6.73" height="6.31" fill="#FFFFFF"/>
<rect x="224.20" y="216.39" width="6.73" height="6.31" fill="#FFFFFF"/>
<rect x="244.40" y="216.39" width="6.73" height="6.31" fill="#FFFFFF"/>
<rect x="311.73" y="216.39" width="6.73" height="6.31" fill="#FFFFFF"/>
<rect x="318.46" y="216.39" width="6.73" height="6.31" fill="#FFFFFF"/>
<rect x="331.93" y="216.39" width="6.73" height="6.31" fill="#FFFFFF"/>
<rect x="338.66" y="216.39" width="6.73" height="6.31" fill="#FFFFFF"/>
<rect x="224.20" y="222.70" width="6.73" height="6.31" fill="#FFFFFF"/>
<rect x="230.93" y="222.70" width="6.73" height="6.31" fill="#FFFFFF"/>
<rect x="251.13" y="222.70" width="6.73" height="6.31" fill="#FFFFFF"/>
<rect x="291.53" y="222.70" width="6.73" height="6.31" fill="#FFFFFF"/>
<rect x="311.73" y="222.70" width="6.73" height="6.31" fill="#FFFFFF"/>
<rect x="331.93" y="222.70" width="6.73" height="6.31" fill="#FFFFFF"/>
<rect x="338.66" y="222.70" width="6.73" height="6.31" fill="#FFFFFF"/>
<rect x="264.60" y="229.01" width="6.73" height="6.31" fill="#FFFFFF"/>
<rect x="271.33" y="229.01" width="6.73" height="6.31" fill="#FFFFFF"/>
<rect x="305.00" y="229.01" width="6.73" height="6.31" fill="#FFFFFF"/>
<rect x="311.73" y="229.01" width="6.73" height="6.31" fill="#FFFFFF"/>
<rect x="318.46" y="229.01" width="6.73" height="6.31" fill="#FFFFFF"/>
<rect x="325.19" y="229.01" width="6.73" height="6.31" fill="#FFFFFF"/>
<rect x="331.93" y="229.01" width="6.73" height="6.31" fill="#FFFFFF"/>
<rect x="230.93" y="235.32" width="6.73" height="6.31" fill="#FFFFFF"/>
<rect x="305.00" y="235.32" width="6.73" height="6.31" fill="#FFFFFF"/>
<rect x="311.73" y="235.32" width="6.73" height="6.31" fill="#FFFFFF"/>
<rect x="318.46" y="235.32" width="6.73" height="6.31" fill="#FFFFFF"/>
<rect x="352.13" y="235.32" width="6.73" height="6.31" fill="#FFFFFF"/>
<rect x="224.20" y="241.64" width="6.73" height="6.31" fill="#FFFFFF"/>
<rect x="298.26" y="241.64" width="6.73" height="6.31" fill="#FFFFFF"/>
<rect x="224.20" y="247.95" width="6.73" height="6.31" fill="#FFFFFF"/>
<rect x="318.46" y="247.95" width="6.73" height="6.31" fill="#FFFFFF"/>
<rect x="325.19" y="247.95" width="6.73" height="6.31" fill="#FFFFFF"/>
<rect x="251.13" y="254.26" width="6.73" height="6.31" fill="#FFFFFF"/>
<rect x="291.53" y="254.26" width="6.73" height="6.31" fill="#FFFFFF"/>
<rect x="305.00" y="254.26" width="6.73" height="6.31" fill="#FFFFFF"/>
<rect x="298.26" y="260.58" width="6.73" height="6.31" fill="#FFFFFF"/>
<rect x="305.00" y="260.58" width="6.73" height="6.31" fill="#FFFFFF"/>
<rect x="311.73" y="260.58" width="6.73" height="6.31" fill="#FFFFFF"/>
<rect x="224.20" y="266.89" width="6.73" height="6.31" fill="#FFFFFF"/>
<rect x="291.53" y="266.89" width="6.73" height="6.31" fill="#FFFFFF"/>
<rect x="352.13" y="266.89" width="6.73" height="6.31" fill="#FFFFFF"/>
<line x1="224.20" y1="77.50" x2="224.20" y2="273.20" stroke="#838383" stroke-width="0.7"/>
<line x1="230.93" y1="77.50" x2="230.93" y2="273.20" stroke="#838383" stroke-width="0.7"/>
<line x1="237.67" y1="77.50" x2="237.67" y2="273.20" stroke="#838383" stroke-width="0.7"/>
<line x1="244.40" y1="77.50" x2="244.40" y2="273.20" stroke="#838383" stroke-width="0.7"/>
<line x1="251.13" y1="77.50" x2="251.13" y2="273.20" stroke="#838383" stroke-width="0.7"/>
<line x1="257.87" y1="77.50" x2="257.87" y2="273.20" stroke="#838383" stroke-width="0.7"/>
<line x1="264.60" y1="77.50" x2="264.60" y2="273.20" stroke="#838383" stroke-width="0.7"/>
<line x1="271.33" y1="77.50" x2="271.33" y2="273.20" stroke="#838383" stroke-width="0.7"/>
<line x1="278.06" y1="77.50" x2="278.06" y2="273.20" stroke="#838383" stroke-width="0.7"/>
<line x1="284.80" y1="77.50" x2="284.80" y2="273.20" stroke="#838383" stroke-width="0.7"/>
<line x1="291.53" y1="77.50" x2="291.53" y2="273.20" stroke="#838383" stroke-width="0.7"/>
<line x1="298.26" y1="77.50" x2="298.26" y2="273.20" stroke="#838383" stroke-width="0.7"/>
<line x1="305.00" y1="77.50" x2="305.00" y2="273.20" stroke="#838383" stroke-width="0.7"/>
<line x1="311.73" y1="77.50" x2="311.73" y2="273.20" stroke="#838383" stroke-width="0.7"/>
<line x1="318.46" y1="77.50" x2="318.46" y2="273.20" stroke="#838383" stroke-width="0.7"/>
<line x1="325.19" y1="77.50" x2="325.19" y2="273.20" stroke="#838383" stroke-width="0.7"/>
<line x1="331.93" y1="77.50" x2="331.93" y2="273.20" stroke="#838383" stroke-width="0.7"/>
<line x1="338.66" y1="77.50" x2="338.66" y2="273.20" stroke="#838383" stroke-width="0.7"/>
<line x1="345.39" y1="77.50" x2="345.39" y2="273.20" stroke="#838383" stroke-width="0.7"/>
<line x1="352.13" y1="77.50" x2="352.13" y2="273.20" stroke="#838383" stroke-width="0.7"/>
<line x1="358.86" y1="77.50" x2="358.86" y2="273.20" stroke="#838383" stroke-width="0.7"/>
<line x1="365.59" y1="77.50" x2="365.59" y2="273.20" stroke="#838383" stroke-width="0.7"/>
<line x1="224.20" y1="77.50" x2="365.59" y2="77.50" stroke="#838383" stroke-width="0.7"/>
<line x1="224.20" y1="83.81" x2="365.59" y2="83.81" stroke="#838383" stroke-width="0.7"/>
<line x1="224.20" y1="90.13" x2="365.59" y2="90.13" stroke="#838383" stroke-width="0.7"/>
<line x1="224.20" y1="96.44" x2="365.59" y2="96.44" stroke="#838383" stroke-width="0.7"/>
<line x1="224.20" y1="102.75" x2="365.59" y2="102.75" stroke="#838383" stroke-width="0.7"/>
<line x1="224.20" y1="109.06" x2="365.59" y2="109.06" stroke="#838383" stroke-width="0.7"/>
<line x1="224.20" y1="115.38" x2="365.59" y2="115.38" stroke="#838383" stroke-width="0.7"/>
<line x1="224.20" y1="121.69" x2="365.59" y2="121.69" stroke="#838383" stroke-width="0.7"/>
<line x1="224.20" y1="128.00" x2="365.59" y2="128.00" stroke="#838383" stroke-width="0.7"/>
<line x1="224.20" y1="134.32" x2="365.59" y2="134.32" stroke="#838383" stroke-width="0.7"/>
<line x1="224.20" y1="140.63" x2="365.59" y2="140.63" stroke="#838383" stroke-width="0.7"/>
<line x1="224.20" y1="146.94" x2="365.59" y2="146.94" stroke="#838383" stroke-width="0.7"/>
<line x1="224.20" y1="153.26" x2="365.59" y2="153.26" stroke="#838383" stroke-width="0.7"/>
<line x1="224.20" y1="159.57" x2="365.59" y2="159.57" stroke="#838383" stroke-width="0.7"/>
<line x1="224.20" y1="165.88" x2="365.59" y2="165.88" stroke="#838383" stroke-width="0.7"/>
<line x1="224.20" y1="172.19" x2="365.59" y2="172.19" stroke="#838383" stroke-width="0.7"/>
<line x1="224.20" y1="178.51" x2="365.59" y2="178.51" stroke="#838383" stroke-width="0.7"/>
<line x1="224.20" y1="184.82" x2="365.59" y2="184.82" stroke="#838383" stroke-width="0.7"/>
<line x1="224.20" y1="191.13" x2="365.59" y2="191.13" stroke="#838383" stroke-width="0.7"/>
<line x1="224.20" y1="197.45" x2="365.59" y2="197.45" stroke="#838383" stroke-width="0.7"/>
<line x1="224.20" y1="203.76" x2="365.59" y2="203.76" stroke="#838383" stroke-width="0.7"/>
<line x1="224.20" y1="210.07" x2="365.59" y2="210.07" stroke="#838383" stroke-width="0.7"/>
<line x1="224.20" y1="216.39" x2="365.59" y2="216.39" stroke="#838383" stroke-width="0.7"/>
<line x1="224.20" y1="222.70" x2="365.59" y2="222.70" stroke="#838383" stroke-width="0.7"/>
<line x1="224.20" y1="229.01" x2="365.59" y2="229.01" stroke="#838383" stroke-width="0.7"/>
<line x1="224.20" y1="235.32" x2="365.59" y2="235.32" stroke="#838383" stroke-width="0.7"/>
<line x1="224.20" y1="241.64" x2="365.59" y2="241.64" stroke="#838383" stroke-width="0.7"/>
<line x1="224.20" y1="247.95" x2="365.59" y2="247.95" stroke="#838383" stroke-width="0.7"/>
<line x1="224.20" y1="254.26" x2="365.59" y2="254.26" stroke="#838383" stroke-width="0.7"/>
<line x1="224.20" y1="260.58" x2="365.59" y2="260.58" stroke="#838383" stroke-width="0.7"/>
<line x1="224.20" y1="266.89" x2="365.59" y2="266.89" stroke="#838383" stroke-width="0.7"/>
<line x1="224.20" y1="273.20" x2="365.59" y2="273.20" stroke="#838383" stroke-width="0.7"/>
<text x="254.50" y="82.36" font-size="4.1" text-anchor="middle" fill="#3C3C3C" stroke="#3C3C3C" stroke-width="0.15">1</text>
<rect x="298.36" y="77.60" width="6.53" height="6.11" fill="#FFE6E6" stroke="#EBA0A0" stroke-width="0.45"/>
<text x="301.63" y="82.36" font-size="4.1" text-anchor="middle" fill="#3C3C3C" stroke="#3C3C3C" stroke-width="0.15">2</text>
<text x="308.36" y="82.36" font-size="4.1" text-anchor="middle" fill="#3C3C3C" stroke="#3C3C3C" stroke-width="0.15">1</text>
<rect x="311.83" y="77.60" width="6.53" height="6.11" fill="#FFCCCC" stroke="#EB8686" stroke-width="0.45"/>
<text x="315.10" y="82.36" font-size="4.1" text-anchor="middle" fill="#3C3C3C" stroke="#3C3C3C" stroke-width="0.15">3</text>
<rect x="325.30" y="77.60" width="6.53" height="6.11" fill="#FFCCCC" stroke="#EB8686" stroke-width="0.45"/>
<text x="328.56" y="82.36" font-size="4.1" text-anchor="middle" fill="#3C3C3C" stroke="#3C3C3C" stroke-width="0.15">3</text>
<rect x="345.49" y="77.60" width="6.53" height="6.11" fill="#FFB0B0" stroke="#EB6A6A" stroke-width="0.45"/>
<text x="348.76" y="82.36" font-size="4.1" text-anchor="middle" fill="#3C3C3C" stroke="#3C3C3C" stroke-width="0.15">4</text>
<rect x="352.23" y="77.60" width="6.53" height="6.11" fill="#FFE6E6" stroke="#EBA0A0" stroke-width="0.45"/>
<text x="355.49" y="82.36" font-size="4.1" text-anchor="middle" fill="#3C3C3C" stroke="#3C3C3C" stroke-width="0.15">2</text>
<rect x="358.96" y="77.60" width="6.53" height="6.11" fill="#FA5252" stroke="#EB0C0C" stroke-width="0.45"/>
<text x="362.23" y="82.36" font-size="4.1" text-anchor="middle" fill="#3A0808" stroke="#3A0808" stroke-width="0.15">9</text>
<text x="247.77" y="88.67" font-size="4.1" text-anchor="middle" fill="#3C3C3C" stroke="#3C3C3C" stroke-width="0.15">1</text>
<text x="301.63" y="88.67" font-size="4.1" text-anchor="middle" fill="#3C3C3C" stroke="#3C3C3C" stroke-width="0.15">1</text>
<text x="315.10" y="88.67" font-size="4.1" text-anchor="middle" fill="#3C3C3C" stroke="#3C3C3C" stroke-width="0.15">1</text>
<text x="321.83" y="88.67" font-size="4.1" text-anchor="middle" fill="#3C3C3C" stroke="#3C3C3C" stroke-width="0.15">1</text>
<text x="328.56" y="88.67" font-size="4.1" text-anchor="middle" fill="#3C3C3C" stroke="#3C3C3C" stroke-width="0.15">1</text>
<text x="335.29" y="88.67" font-size="4.1" text-anchor="middle" fill="#3C3C3C" stroke="#3C3C3C" stroke-width="0.15">1</text>
<text x="355.49" y="88.67" font-size="4.1" text-anchor="middle" fill="#3C3C3C" stroke="#3C3C3C" stroke-width="0.15">1</text>
<rect x="358.96" y="83.91" width="6.53" height="6.11" fill="#FC1414" stroke="#EB0000" stroke-width="0.45"/>
<text x="362.23" y="88.67" font-size="4.1" text-anchor="middle" fill="#3A0808" stroke="#3A0808" stroke-width="0.15">14</text>
<text x="227.57" y="94.98" font-size="4.1" text-anchor="middle" fill="#3C3C3C" stroke="#3C3C3C" stroke-width="0.15">1</text>
<text x="234.30" y="94.98" font-size="4.1" text-anchor="middle" fill="#3C3C3C" stroke="#3C3C3C" stroke-width="0.15">1</text>
<text x="261.23" y="94.98" font-size="4.1" text-anchor="middle" fill="#3C3C3C" stroke="#3C3C3C" stroke-width="0.15">1</text>
<text x="294.90" y="94.98" font-size="4.1" text-anchor="middle" fill="#3C3C3C" stroke="#3C3C3C" stroke-width="0.15">1</text>
<rect x="332.03" y="90.23" width="6.53" height="6.11" fill="#FFE6E6" stroke="#EBA0A0" stroke-width="0.45"/>
<text x="335.29" y="94.98" font-size="4.1" text-anchor="middle" fill="#3C3C3C" stroke="#3C3C3C" stroke-width="0.15">2</text>
<text x="355.49" y="94.98" font-size="4.1" text-anchor="middle" fill="#3C3C3C" stroke="#3C3C3C" stroke-width="0.15">1</text>
<rect x="358.96" y="90.23" width="6.53" height="6.11" fill="#FA3838" stroke="#EB0000" stroke-width="0.45"/>
<text x="362.23" y="94.98" font-size="4.1" text-anchor="middle" fill="#3A0808" stroke="#3A0808" stroke-width="0.15">11</text>
<text x="321.83" y="101.30" font-size="4.1" text-anchor="middle" fill="#3C3C3C" stroke="#3C3C3C" stroke-width="0.15">1</text>
<text x="335.29" y="101.30" font-size="4.1" text-anchor="middle" fill="#3C3C3C" stroke="#3C3C3C" stroke-width="0.15">1</text>
<text x="355.49" y="101.30" font-size="4.1" text-anchor="middle" fill="#3C3C3C" stroke="#3C3C3C" stroke-width="0.15">1</text>
<rect x="358.96" y="96.54" width="6.53" height="6.11" fill="#FA2C2C" stroke="#EB0000" stroke-width="0.45"/>
<text x="362.23" y="101.30" font-size="4.1" text-anchor="middle" fill="#3A0808" stroke="#3A0808" stroke-width="0.15">12</text>
<text x="227.57" y="107.61" font-size="4.1" text-anchor="middle" fill="#3C3C3C" stroke="#3C3C3C" stroke-width="0.15">1</text>
<text x="247.77" y="107.61" font-size="4.1" text-anchor="middle" fill="#3C3C3C" stroke="#3C3C3C" stroke-width="0.15">1</text>
<rect x="291.63" y="102.85" width="6.53" height="6.11" fill="#FFCCCC" stroke="#EB8686" stroke-width="0.45"/>
<text x="294.90" y="107.61" font-size="4.1" text-anchor="middle" fill="#3C3C3C" stroke="#3C3C3C" stroke-width="0.15">3</text>
<text x="301.63" y="107.61" font-size="4.1" text-anchor="middle" fill="#3C3C3C" stroke="#3C3C3C" stroke-width="0.15">1</text>
<text x="308.36" y="107.61" font-size="4.1" text-anchor="middle" fill="#3C3C3C" stroke="#3C3C3C" stroke-width="0.15">1</text>
<rect x="311.83" y="102.85" width="6.53" height="6.11" fill="#FFE6E6" stroke="#EBA0A0" stroke-width="0.45"/>
<text x="315.10" y="107.61" font-size="4.1" text-anchor="middle" fill="#3C3C3C" stroke="#3C3C3C" stroke-width="0.15">2</text>
<text x="321.83" y="107.61" font-size="4.1" text-anchor="middle" fill="#3C3C3C" stroke="#3C3C3C" stroke-width="0.15">1</text>
<text x="328.56" y="107.61" font-size="4.1" text-anchor="middle" fill="#3C3C3C" stroke="#3C3C3C" stroke-width="0.15">1</text>
<rect x="345.49" y="102.85" width="6.53" height="6.11" fill="#FFE6E6" stroke="#EBA0A0" stroke-width="0.45"/>
<text x="348.76" y="107.61" font-size="4.1" text-anchor="middle" fill="#3C3C3C" stroke="#3C3C3C" stroke-width="0.15">2</text>
<rect x="358.96" y="102.85" width="6.53" height="6.11" fill="#FA7676" stroke="#EB3030" stroke-width="0.45"/>
<text x="362.23" y="107.61" font-size="4.1" text-anchor="middle" fill="#3A0808" stroke="#3A0808" stroke-width="0.15">7</text>
<text x="234.30" y="113.92" font-size="4.1" text-anchor="middle" fill="#3C3C3C" stroke="#3C3C3C" stroke-width="0.15">1</text>
<text x="254.50" y="113.92" font-size="4.1" text-anchor="middle" fill="#3C3C3C" stroke="#3C3C3C" stroke-width="0.15">1</text>
<rect x="298.36" y="109.16" width="6.53" height="6.11" fill="#FFE6E6" stroke="#EBA0A0" stroke-width="0.45"/>
<text x="301.63" y="113.92" font-size="4.1" text-anchor="middle" fill="#3C3C3C" stroke="#3C3C3C" stroke-width="0.15">2</text>
<text x="308.36" y="113.92" font-size="4.1" text-anchor="middle" fill="#3C3C3C" stroke="#3C3C3C" stroke-width="0.15">1</text>
<rect x="311.83" y="109.16" width="6.53" height="6.11" fill="#FF9898" stroke="#EB5252" stroke-width="0.45"/>
<text x="315.10" y="113.92" font-size="4.1" text-anchor="middle" fill="#3C3C3C" stroke="#3C3C3C" stroke-width="0.15">5</text>
<text x="355.49" y="113.92" font-size="4.1" text-anchor="middle" fill="#3C3C3C" stroke="#3C3C3C" stroke-width="0.15">1</text>
<rect x="358.96" y="109.16" width="6.53" height="6.11" fill="#FA7676" stroke="#EB3030" stroke-width="0.45"/>
<text x="362.23" y="113.92" font-size="4.1" text-anchor="middle" fill="#3A0808" stroke="#3A0808" stroke-width="0.15">7</text>
<text x="227.57" y="120.23" font-size="4.1" text-anchor="middle" fill="#3C3C3C" stroke="#3C3C3C" stroke-width="0.15">1</text>
<rect x="311.83" y="115.48" width="6.53" height="6.11" fill="#FFCCCC" stroke="#EB8686" stroke-width="0.45"/>
<text x="315.10" y="120.23" font-size="4.1" text-anchor="middle" fill="#3C3C3C" stroke="#3C3C3C" stroke-width="0.15">3</text>
<text x="335.29" y="120.23" font-size="4.1" text-anchor="middle" fill="#3C3C3C" stroke="#3C3C3C" stroke-width="0.15">1</text>
<rect x="345.49" y="115.48" width="6.53" height="6.11" fill="#FFE6E6" stroke="#EBA0A0" stroke-width="0.45"/>
<text x="348.76" y="120.23" font-size="4.1" text-anchor="middle" fill="#3C3C3C" stroke="#3C3C3C" stroke-width="0.15">2</text>
<text x="355.49" y="120.23" font-size="4.1" text-anchor="middle" fill="#3C3C3C" stroke="#3C3C3C" stroke-width="0.15">1</text>
<rect x="358.96" y="115.48" width="6.53" height="6.11" fill="#FA6262" stroke="#EB1C1C" stroke-width="0.45"/>
<text x="362.23" y="120.23" font-size="4.1" text-anchor="middle" fill="#3A0808" stroke="#3A0808" stroke-width="0.15">8</text>
<text x="321.83" y="126.55" font-size="4.1" text-anchor="middle" fill="#3C3C3C" stroke="#3C3C3C" stroke-width="0.15">1</text>
<rect x="325.30" y="121.79" width="6.53" height="6.11" fill="#FF8484" stroke="#EB3E3E" stroke-width="0.45"/>
<text x="328.56" y="126.55" font-size="4.1" text-anchor="middle" fill="#3C3C3C" stroke="#3C3C3C" stroke-width="0.15">6</text>
<rect x="332.03" y="121.79" width="6.53" height="6.11" fill="#FFCCCC" stroke="#EB8686" stroke-width="0.45"/>
<text x="335.29" y="126.55" font-size="4.1" text-anchor="middle" fill="#3C3C3C" stroke="#3C3C3C" stroke-width="0.15">3</text>
<rect x="345.49" y="121.79" width="6.53" height="6.11" fill="#FFE6E6" stroke="#EBA0A0" stroke-width="0.45"/>
<text x="348.76" y="126.55" font-size="4.1" text-anchor="middle" fill="#3C3C3C" stroke="#3C3C3C" stroke-width="0.15">2</text>
<rect x="358.96" y="121.79" width="6.53" height="6.11" fill="#FC0000" stroke="#EB0000" stroke-width="0.45"/>
<text x="362.23" y="126.55" font-size="4.1" text-anchor="middle" fill="#3A0808" stroke="#3A0808" stroke-width="0.15">18</text>
<text x="247.77" y="132.86" font-size="4.1" text-anchor="middle" fill="#3C3C3C" stroke="#3C3C3C" stroke-width="0.15">1</text>
<text x="261.23" y="132.86" font-size="4.1" text-anchor="middle" fill="#3C3C3C" stroke="#3C3C3C" stroke-width="0.15">1</text>
<text x="294.90" y="132.86" font-size="4.1" text-anchor="middle" fill="#3C3C3C" stroke="#3C3C3C" stroke-width="0.15">1</text>
<text x="308.36" y="132.86" font-size="4.1" text-anchor="middle" fill="#3C3C3C" stroke="#3C3C3C" stroke-width="0.15">1</text>
<rect x="311.83" y="128.10" width="6.53" height="6.11" fill="#FFCCCC" stroke="#EB8686" stroke-width="0.45"/>
<text x="315.10" y="132.86" font-size="4.1" text-anchor="middle" fill="#3C3C3C" stroke="#3C3C3C" stroke-width="0.15">3</text>
<rect x="345.49" y="128.10" width="6.53" height="6.11" fill="#FFB0B0" stroke="#EB6A6A" stroke-width="0.45"/>
<text x="348.76" y="132.86" font-size="4.1" text-anchor="middle" fill="#3C3C3C" stroke="#3C3C3C" stroke-width="0.15">4</text>
<rect x="358.96" y="128.10" width="6.53" height="6.11" fill="#FC1414" stroke="#EB0000" stroke-width="0.45"/>
<text x="362.23" y="132.86" font-size="4.1" text-anchor="middle" fill="#3A0808" stroke="#3A0808" stroke-width="0.15">14</text>
<text x="227.57" y="139.17" font-size="4.1" text-anchor="middle" fill="#3C3C3C" stroke="#3C3C3C" stroke-width="0.15">1</text>
<text x="294.90" y="139.17" font-size="4.1" text-anchor="middle" fill="#3C3C3C" stroke="#3C3C3C" stroke-width="0.15">1</text>
<text x="301.63" y="139.17" font-size="4.1" text-anchor="middle" fill="#3C3C3C" stroke="#3C3C3C" stroke-width="0.15">1</text>
<text x="308.36" y="139.17" font-size="4.1" text-anchor="middle" fill="#3C3C3C" stroke="#3C3C3C" stroke-width="0.15">1</text>
<rect x="311.83" y="134.42" width="6.53" height="6.11" fill="#FFB0B0" stroke="#EB6A6A" stroke-width="0.45"/>
<text x="315.10" y="139.17" font-size="4.1" text-anchor="middle" fill="#3C3C3C" stroke="#3C3C3C" stroke-width="0.15">4</text>
<rect x="325.30" y="134.42" width="6.53" height="6.11" fill="#FF9898" stroke="#EB5252" stroke-width="0.45"/>
<text x="328.56" y="139.17" font-size="4.1" text-anchor="middle" fill="#3C3C3C" stroke="#3C3C3C" stroke-width="0.15">5</text>
<text x="335.29" y="139.17" font-size="4.1" text-anchor="middle" fill="#3C3C3C" stroke="#3C3C3C" stroke-width="0.15">1</text>
<rect x="345.49" y="134.42" width="6.53" height="6.11" fill="#FF8484" stroke="#EB3E3E" stroke-width="0.45"/>
<text x="348.76" y="139.17" font-size="4.1" text-anchor="middle" fill="#3C3C3C" stroke="#3C3C3C" stroke-width="0.15">6</text>
<rect x="358.96" y="134.42" width="6.53" height="6.11" fill="#FA5252" stroke="#EB0C0C" stroke-width="0.45"/>
<text x="362.23" y="139.17" font-size="4.1" text-anchor="middle" fill="#3A0808" stroke="#3A0808" stroke-width="0.15">9</text>
<text x="274.70" y="145.49" font-size="4.1" text-anchor="middle" fill="#3C3C3C" stroke="#3C3C3C" stroke-width="0.15">1</text>
<text x="288.16" y="145.49" font-size="4.1" text-anchor="middle" fill="#3C3C3C" stroke="#3C3C3C" stroke-width="0.15">1</text>
<text x="301.63" y="145.49" font-size="4.1" text-anchor="middle" fill="#3C3C3C" stroke="#3C3C3C" stroke-width="0.15">1</text>
<rect x="305.10" y="140.73" width="6.53" height="6.11" fill="#FFB0B0" stroke="#EB6A6A" stroke-width="0.45"/>
<text x="308.36" y="145.49" font-size="4.1" text-anchor="middle" fill="#3C3C3C" stroke="#3C3C3C" stroke-width="0.15">4</text>
<rect x="311.83" y="140.73" width="6.53" height="6.11" fill="#FFCCCC" stroke="#EB8686" stroke-width="0.45"/>
<text x="315.10" y="145.49" font-size="4.1" text-anchor="middle" fill="#3C3C3C" stroke="#3C3C3C" stroke-width="0.15">3</text>
<text x="321.83" y="145.49" font-size="4.1" text-anchor="middle" fill="#3C3C3C" stroke="#3C3C3C" stroke-width="0.15">1</text>
<rect x="325.30" y="140.73" width="6.53" height="6.11" fill="#FFCCCC" stroke="#EB8686" stroke-width="0.45"/>
<text x="328.56" y="145.49" font-size="4.1" text-anchor="middle" fill="#3C3C3C" stroke="#3C3C3C" stroke-width="0.15">3</text>
<text x="335.29" y="145.49" font-size="4.1" text-anchor="middle" fill="#3C3C3C" stroke="#3C3C3C" stroke-width="0.15">1</text>
<rect x="345.49" y="140.73" width="6.53" height="6.11" fill="#FFB0B0" stroke="#EB6A6A" stroke-width="0.45"/>
<text x="348.76" y="145.49" font-size="4.1" text-anchor="middle" fill="#3C3C3C" stroke="#3C3C3C" stroke-width="0.15">4</text>
<rect x="358.96" y="140.73" width="6.53" height="6.11" fill="#FA2020" stroke="#EB0000" stroke-width="0.45"/>
<text x="362.23" y="145.49" font-size="4.1" text-anchor="middle" fill="#3A0808" stroke="#3A0808" stroke-width="0.15">13</text>
<text x="274.70" y="151.80" font-size="4.1" text-anchor="middle" fill="#3C3C3C" stroke="#3C3C3C" stroke-width="0.15">1</text>
<rect x="298.36" y="147.04" width="6.53" height="6.11" fill="#FFE6E6" stroke="#EBA0A0" stroke-width="0.45"/>
<text x="301.63" y="151.80" font-size="4.1" text-anchor="middle" fill="#3C3C3C" stroke="#3C3C3C" stroke-width="0.15">2</text>
<rect x="345.49" y="147.04" width="6.53" height="6.11" fill="#FFE6E6" stroke="#EBA0A0" stroke-width="0.45"/>
<text x="348.76" y="151.80" font-size="4.1" text-anchor="middle" fill="#3C3C3C" stroke="#3C3C3C" stroke-width="0.15">2</text>
<rect x="358.96" y="147.04" width="6.53" height="6.11" fill="#FA4444" stroke="#EB0000" stroke-width="0.45"/>
<text x="362.23" y="151.80" font-size="4.1" text-anchor="middle" fill="#3A0808" stroke="#3A0808" stroke-width="0.15">10</text>
<text x="261.23" y="158.11" font-size="4.1" text-anchor="middle" fill="#3C3C3C" stroke="#3C3C3C" stroke-width="0.15">1</text>
<rect x="291.63" y="153.36" width="6.53" height="6.11" fill="#FFB0B0" stroke="#EB6A6A" stroke-width="0.45"/>
<text x="294.90" y="158.11" font-size="4.1" text-anchor="middle" fill="#3C3C3C" stroke="#3C3C3C" stroke-width="0.15">4</text>
<rect x="311.83" y="153.36" width="6.53" height="6.11" fill="#FFE6E6" stroke="#EBA0A0" stroke-width="0.45"/>
<text x="315.10" y="158.11" font-size="4.1" text-anchor="middle" fill="#3C3C3C" stroke="#3C3C3C" stroke-width="0.15">2</text>
<text x="342.03" y="158.11" font-size="4.1" text-anchor="middle" fill="#3C3C3C" stroke="#3C3C3C" stroke-width="0.15">1</text>
<text x="355.49" y="158.11" font-size="4.1" text-anchor="middle" fill="#3C3C3C" stroke="#3C3C3C" stroke-width="0.15">1</text>
<rect x="358.96" y="153.36" width="6.53" height="6.11" fill="#FA5252" stroke="#EB0C0C" stroke-width="0.45"/>
<text x="362.23" y="158.11" font-size="4.1" text-anchor="middle" fill="#3A0808" stroke="#3A0808" stroke-width="0.15">9</text>
<text x="241.03" y="164.43" font-size="4.1" text-anchor="middle" fill="#3C3C3C" stroke="#3C3C3C" stroke-width="0.15">1</text>
<text x="294.90" y="164.43" font-size="4.1" text-anchor="middle" fill="#3C3C3C" stroke="#3C3C3C" stroke-width="0.15">1</text>
<rect x="305.10" y="159.67" width="6.53" height="6.11" fill="#FFCCCC" stroke="#EB8686" stroke-width="0.45"/>
<text x="308.36" y="164.43" font-size="4.1" text-anchor="middle" fill="#3C3C3C" stroke="#3C3C3C" stroke-width="0.15">3</text>
<rect x="311.83" y="159.67" width="6.53" height="6.11" fill="#FFCCCC" stroke="#EB8686" stroke-width="0.45"/>
<text x="315.10" y="164.43" font-size="4.1" text-anchor="middle" fill="#3C3C3C" stroke="#3C3C3C" stroke-width="0.15">3</text>
<text x="328.56" y="164.43" font-size="4.1" text-anchor="middle" fill="#3C3C3C" stroke="#3C3C3C" stroke-width="0.15">1</text>
<text x="342.03" y="164.43" font-size="4.1" text-anchor="middle" fill="#3C3C3C" stroke="#3C3C3C" stroke-width="0.15">1</text>
<rect x="345.49" y="159.67" width="6.53" height="6.11" fill="#FFE6E6" stroke="#EBA0A0" stroke-width="0.45"/>
<text x="348.76" y="164.43" font-size="4.1" text-anchor="middle" fill="#3C3C3C" stroke="#3C3C3C" stroke-width="0.15">2</text>
<text x="355.49" y="164.43" font-size="4.1" text-anchor="middle" fill="#3C3C3C" stroke="#3C3C3C" stroke-width="0.15">1</text>
<rect x="358.96" y="159.67" width="6.53" height="6.11" fill="#FA2C2C" stroke="#EB0000" stroke-width="0.45"/>
<text x="362.23" y="164.43" font-size="4.1" text-anchor="middle" fill="#3A0808" stroke="#3A0808" stroke-width="0.15">12</text>
<text x="247.77" y="170.74" font-size="4.1" text-anchor="middle" fill="#3C3C3C" stroke="#3C3C3C" stroke-width="0.15">1</text>
<text x="261.23" y="170.74" font-size="4.1" text-anchor="middle" fill="#3C3C3C" stroke="#3C3C3C" stroke-width="0.15">1</text>
<text x="274.70" y="170.74" font-size="4.1" text-anchor="middle" fill="#3C3C3C" stroke="#3C3C3C" stroke-width="0.15">1</text>
<text x="308.36" y="170.74" font-size="4.1" text-anchor="middle" fill="#3C3C3C" stroke="#3C3C3C" stroke-width="0.15">1</text>
<text x="321.83" y="170.74" font-size="4.1" text-anchor="middle" fill="#3C3C3C" stroke="#3C3C3C" stroke-width="0.15">1</text>
<rect x="325.30" y="165.98" width="6.53" height="6.11" fill="#FFB0B0" stroke="#EB6A6A" stroke-width="0.45"/>
<text x="328.56" y="170.74" font-size="4.1" text-anchor="middle" fill="#3C3C3C" stroke="#3C3C3C" stroke-width="0.15">4</text>
<text x="335.29" y="170.74" font-size="4.1" text-anchor="middle" fill="#3C3C3C" stroke="#3C3C3C" stroke-width="0.15">1</text>
<text x="342.03" y="170.74" font-size="4.1" text-anchor="middle" fill="#3C3C3C" stroke="#3C3C3C" stroke-width="0.15">1</text>
<text x="355.49" y="170.74" font-size="4.1" text-anchor="middle" fill="#3C3C3C" stroke="#3C3C3C" stroke-width="0.15">1</text>
<rect x="358.96" y="165.98" width="6.53" height="6.11" fill="#FA6262" stroke="#EB1C1C" stroke-width="0.45"/>
<text x="362.23" y="170.74" font-size="4.1" text-anchor="middle" fill="#3A0808" stroke="#3A0808" stroke-width="0.15">8</text>
<text x="281.43" y="177.05" font-size="4.1" text-anchor="middle" fill="#3C3C3C" stroke="#3C3C3C" stroke-width="0.15">1</text>
<rect x="291.63" y="172.29" width="6.53" height="6.11" fill="#FFE6E6" stroke="#EBA0A0" stroke-width="0.45"/>
<text x="294.90" y="177.05" font-size="4.1" text-anchor="middle" fill="#3C3C3C" stroke="#3C3C3C" stroke-width="0.15">2</text>
<rect x="311.83" y="172.29" width="6.53" height="6.11" fill="#FFCCCC" stroke="#EB8686" stroke-width="0.45"/>
<text x="315.10" y="177.05" font-size="4.1" text-anchor="middle" fill="#3C3C3C" stroke="#3C3C3C" stroke-width="0.15">3</text>
<rect x="318.56" y="172.29" width="6.53" height="6.11" fill="#FFE6E6" stroke="#EBA0A0" stroke-width="0.45"/>
<text x="321.83" y="177.05" font-size="4.1" text-anchor="middle" fill="#3C3C3C" stroke="#3C3C3C" stroke-width="0.15">2</text>
<rect x="325.30" y="172.29" width="6.53" height="6.11" fill="#FFE6E6" stroke="#EBA0A0" stroke-width="0.45"/>
<text x="328.56" y="177.05" font-size="4.1" text-anchor="middle" fill="#3C3C3C" stroke="#3C3C3C" stroke-width="0.15">2</text>
<text x="335.29" y="177.05" font-size="4.1" text-anchor="middle" fill="#3C3C3C" stroke="#3C3C3C" stroke-width="0.15">1</text>
<text x="342.03" y="177.05" font-size="4.1" text-anchor="middle" fill="#3C3C3C" stroke="#3C3C3C" stroke-width="0.15">1</text>
<rect x="345.49" y="172.29" width="6.53" height="6.11" fill="#FFE6E6" stroke="#EBA0A0" stroke-width="0.45"/>
<text x="348.76" y="177.05" font-size="4.1" text-anchor="middle" fill="#3C3C3C" stroke="#3C3C3C" stroke-width="0.15">2</text>
<text x="355.49" y="177.05" font-size="4.1" text-anchor="middle" fill="#3C3C3C" stroke="#3C3C3C" stroke-width="0.15">1</text>
<rect x="358.96" y="172.29" width="6.53" height="6.11" fill="#FA3838" stroke="#EB0000" stroke-width="0.45"/>
<text x="362.23" y="177.05" font-size="4.1" text-anchor="middle" fill="#3A0808" stroke="#3A0808" stroke-width="0.15">11</text>
<text x="254.50" y="183.36" font-size="4.1" text-anchor="middle" fill="#3C3C3C" stroke="#3C3C3C" stroke-width="0.15">1</text>
<text x="261.23" y="183.36" font-size="4.1" text-anchor="middle" fill="#3C3C3C" stroke="#3C3C3C" stroke-width="0.15">1</text>
<text x="294.90" y="183.36" font-size="4.1" text-anchor="middle" fill="#3C3C3C" stroke="#3C3C3C" stroke-width="0.15">1</text>
<text x="301.63" y="183.36" font-size="4.1" text-anchor="middle" fill="#3C3C3C" stroke="#3C3C3C" stroke-width="0.15">1</text>
<text x="308.36" y="183.36" font-size="4.1" text-anchor="middle" fill="#3C3C3C" stroke="#3C3C3C" stroke-width="0.15">1</text>
<text x="328.56" y="183.36" font-size="4.1" text-anchor="middle" fill="#3C3C3C" stroke="#3C3C3C" stroke-width="0.15">1</text>
<rect x="358.96" y="178.61" width="6.53" height="6.11" fill="#FA5252" stroke="#EB0C0C" stroke-width="0.45"/>
<text x="362.23" y="183.36" font-size="4.1" text-anchor="middle" fill="#3A0808" stroke="#3A0808" stroke-width="0.15">9</text>
<text x="294.90" y="189.68" font-size="4.1" text-anchor="middle" fill="#3C3C3C" stroke="#3C3C3C" stroke-width="0.15">1</text>
<text x="301.63" y="189.68" font-size="4.1" text-anchor="middle" fill="#3C3C3C" stroke="#3C3C3C" stroke-width="0.15">1</text>
<text x="308.36" y="189.68" font-size="4.1" text-anchor="middle" fill="#3C3C3C" stroke="#3C3C3C" stroke-width="0.15">1</text>
<rect x="311.83" y="184.92" width="6.53" height="6.11" fill="#FFCCCC" stroke="#EB8686" stroke-width="0.45"/>
<text x="315.10" y="189.68" font-size="4.1" text-anchor="middle" fill="#3C3C3C" stroke="#3C3C3C" stroke-width="0.15">3</text>
<rect x="325.30" y="184.92" width="6.53" height="6.11" fill="#FF9898" stroke="#EB5252" stroke-width="0.45"/>
<text x="328.56" y="189.68" font-size="4.1" text-anchor="middle" fill="#3C3C3C" stroke="#3C3C3C" stroke-width="0.15">5</text>
<text x="355.49" y="189.68" font-size="4.1" text-anchor="middle" fill="#3C3C3C" stroke="#3C3C3C" stroke-width="0.15">1</text>
<rect x="358.96" y="184.92" width="6.53" height="6.11" fill="#FC1414" stroke="#EB0000" stroke-width="0.45"/>
<text x="362.23" y="189.68" font-size="4.1" text-anchor="middle" fill="#3A0808" stroke="#3A0808" stroke-width="0.15">14</text>
<text x="234.30" y="195.99" font-size="4.1" text-anchor="middle" fill="#3C3C3C" stroke="#3C3C3C" stroke-width="0.15">1</text>
<text x="261.23" y="195.99" font-size="4.1" text-anchor="middle" fill="#3C3C3C" stroke="#3C3C3C" stroke-width="0.15">1</text>
<text x="294.90" y="195.99" font-size="4.1" text-anchor="middle" fill="#3C3C3C" stroke="#3C3C3C" stroke-width="0.15">1</text>
<text x="301.63" y="195.99" font-size="4.1" text-anchor="middle" fill="#3C3C3C" stroke="#3C3C3C" stroke-width="0.15">1</text>
<rect x="311.83" y="191.23" width="6.53" height="6.11" fill="#FFE6E6" stroke="#EBA0A0" stroke-width="0.45"/>
<text x="315.10" y="195.99" font-size="4.1" text-anchor="middle" fill="#3C3C3C" stroke="#3C3C3C" stroke-width="0.15">2</text>
<text x="321.83" y="195.99" font-size="4.1" text-anchor="middle" fill="#3C3C3C" stroke="#3C3C3C" stroke-width="0.15">1</text>
<rect x="345.49" y="191.23" width="6.53" height="6.11" fill="#FFB0B0" stroke="#EB6A6A" stroke-width="0.45"/>
<text x="348.76" y="195.99" font-size="4.1" text-anchor="middle" fill="#3C3C3C" stroke="#3C3C3C" stroke-width="0.15">4</text>
<rect x="358.96" y="191.23" width="6.53" height="6.11" fill="#FA7676" stroke="#EB3030" stroke-width="0.45"/>
<text x="362.23" y="195.99" font-size="4.1" text-anchor="middle" fill="#3A0808" stroke="#3A0808" stroke-width="0.15">7</text>
<text x="227.57" y="202.30" font-size="4.1" text-anchor="middle" fill="#3C3C3C" stroke="#3C3C3C" stroke-width="0.15">1</text>
<text x="234.30" y="202.30" font-size="4.1" text-anchor="middle" fill="#3C3C3C" stroke="#3C3C3C" stroke-width="0.15">1</text>
<text x="321.83" y="202.30" font-size="4.1" text-anchor="middle" fill="#3C3C3C" stroke="#3C3C3C" stroke-width="0.15">1</text>
<rect x="325.30" y="197.55" width="6.53" height="6.11" fill="#FFE6E6" stroke="#EBA0A0" stroke-width="0.45"/>
<text x="328.56" y="202.30" font-size="4.1" text-anchor="middle" fill="#3C3C3C" stroke="#3C3C3C" stroke-width="0.15">2</text>
<rect x="345.49" y="197.55" width="6.53" height="6.11" fill="#FFE6E6" stroke="#EBA0A0" stroke-width="0.45"/>
<text x="348.76" y="202.30" font-size="4.1" text-anchor="middle" fill="#3C3C3C" stroke="#3C3C3C" stroke-width="0.15">2</text>
<rect x="358.96" y="197.55" width="6.53" height="6.11" fill="#FA5252" stroke="#EB0C0C" stroke-width="0.45"/>
<text x="362.23" y="202.30" font-size="4.1" text-anchor="middle" fill="#3A0808" stroke="#3A0808" stroke-width="0.15">9</text>
<rect x="271.43" y="203.86" width="6.53" height="6.11" fill="#FFE6E6" stroke="#EBA0A0" stroke-width="0.45"/>
<text x="274.70" y="208.62" font-size="4.1" text-anchor="middle" fill="#3C3C3C" stroke="#3C3C3C" stroke-width="0.15">2</text>
<text x="301.63" y="208.62" font-size="4.1" text-anchor="middle" fill="#3C3C3C" stroke="#3C3C3C" stroke-width="0.15">1</text>
<rect x="311.83" y="203.86" width="6.53" height="6.11" fill="#FFCCCC" stroke="#EB8686" stroke-width="0.45"/>
<text x="315.10" y="208.62" font-size="4.1" text-anchor="middle" fill="#3C3C3C" stroke="#3C3C3C" stroke-width="0.15">3</text>
<text x="328.56" y="208.62" font-size="4.1" text-anchor="middle" fill="#3C3C3C" stroke="#3C3C3C" stroke-width="0.15">1</text>
<text x="335.29" y="208.62" font-size="4.1" text-anchor="middle" fill="#3C3C3C" stroke="#3C3C3C" stroke-width="0.15">1</text>
<text x="342.03" y="208.62" font-size="4.1" text-anchor="middle" fill="#3C3C3C" stroke="#3C3C3C" stroke-width="0.15">1</text>
<rect x="345.49" y="203.86" width="6.53" height="6.11" fill="#FFE6E6" stroke="#EBA0A0" stroke-width="0.45"/>
<text x="348.76" y="208.62" font-size="4.1" text-anchor="middle" fill="#3C3C3C" stroke="#3C3C3C" stroke-width="0.15">2</text>
<rect x="358.96" y="203.86" width="6.53" height="6.11" fill="#FC0808" stroke="#EB0000" stroke-width="0.45"/>
<text x="362.23" y="208.62" font-size="4.1" text-anchor="middle" fill="#3A0808" stroke="#3A0808" stroke-width="0.15">16</text>
<rect x="231.03" y="210.17" width="6.53" height="6.11" fill="#FFE6E6" stroke="#EBA0A0" stroke-width="0.45"/>
<text x="234.30" y="214.93" font-size="4.1" text-anchor="middle" fill="#3C3C3C" stroke="#3C3C3C" stroke-width="0.15">2</text>
<text x="247.77" y="214.93" font-size="4.1" text-anchor="middle" fill="#3C3C3C" stroke="#3C3C3C" stroke-width="0.15">1</text>
<text x="308.36" y="214.93" font-size="4.1" text-anchor="middle" fill="#3C3C3C" stroke="#3C3C3C" stroke-width="0.15">1</text>
<text x="315.10" y="214.93" font-size="4.1" text-anchor="middle" fill="#3C3C3C" stroke="#3C3C3C" stroke-width="0.15">1</text>
<text x="321.83" y="214.93" font-size="4.1" text-anchor="middle" fill="#3C3C3C" stroke="#3C3C3C" stroke-width="0.15">1</text>
<rect x="325.30" y="210.17" width="6.53" height="6.11" fill="#FFE6E6" stroke="#EBA0A0" stroke-width="0.45"/>
<text x="328.56" y="214.93" font-size="4.1" text-anchor="middle" fill="#3C3C3C" stroke="#3C3C3C" stroke-width="0.15">2</text>
<rect x="358.96" y="210.17" width="6.53" height="6.11" fill="#FA3838" stroke="#EB0000" stroke-width="0.45"/>
<text x="362.23" y="214.93" font-size="4.1" text-anchor="middle" fill="#3A0808" stroke="#3A0808" stroke-width="0.15">11</text>
<text x="227.57" y="221.24" font-size="4.1" text-anchor="middle" fill="#3C3C3C" stroke="#3C3C3C" stroke-width="0.15">1</text>
<text x="247.77" y="221.24" font-size="4.1" text-anchor="middle" fill="#3C3C3C" stroke="#3C3C3C" stroke-width="0.15">1</text>
<rect x="298.36" y="216.49" width="6.53" height="6.11" fill="#FFE6E6" stroke="#EBA0A0" stroke-width="0.45"/>
<text x="301.63" y="221.24" font-size="4.1" text-anchor="middle" fill="#3C3C3C" stroke="#3C3C3C" stroke-width="0.15">2</text>
<text x="315.10" y="221.24" font-size="4.1" text-anchor="middle" fill="#3C3C3C" stroke="#3C3C3C" stroke-width="0.15">1</text>
<text x="321.83" y="221.24" font-size="4.1" text-anchor="middle" fill="#3C3C3C" stroke="#3C3C3C" stroke-width="0.15">1</text>
<rect x="325.30" y="216.49" width="6.53" height="6.11" fill="#FFE6E6" stroke="#EBA0A0" stroke-width="0.45"/>
<text x="328.56" y="221.24" font-size="4.1" text-anchor="middle" fill="#3C3C3C" stroke="#3C3C3C" stroke-width="0.15">2</text>
<text x="335.29" y="221.24" font-size="4.1" text-anchor="middle" fill="#3C3C3C" stroke="#3C3C3C" stroke-width="0.15">1</text>
<text x="342.03" y="221.24" font-size="4.1" text-anchor="middle" fill="#3C3C3C" stroke="#3C3C3C" stroke-width="0.15">1</text>
<rect x="345.49" y="216.49" width="6.53" height="6.11" fill="#FFE6E6" stroke="#EBA0A0" stroke-width="0.45"/>
<text x="348.76" y="221.24" font-size="4.1" text-anchor="middle" fill="#3C3C3C" stroke="#3C3C3C" stroke-width="0.15">2</text>
<rect x="358.96" y="216.49" width="6.53" height="6.11" fill="#FC0000" stroke="#EB0000" stroke-width="0.45"/>
<text x="362.23" y="221.24" font-size="4.1" text-anchor="middle" fill="#3A0808" stroke="#3A0808" stroke-width="0.15">19</text>
<text x="227.57" y="227.56" font-size="4.1" text-anchor="middle" fill="#3C3C3C" stroke="#3C3C3C" stroke-width="0.15">1</text>
<text x="234.30" y="227.56" font-size="4.1" text-anchor="middle" fill="#3C3C3C" stroke="#3C3C3C" stroke-width="0.15">1</text>
<text x="254.50" y="227.56" font-size="4.1" text-anchor="middle" fill="#3C3C3C" stroke="#3C3C3C" stroke-width="0.15">1</text>
<text x="294.90" y="227.56" font-size="4.1" text-anchor="middle" fill="#3C3C3C" stroke="#3C3C3C" stroke-width="0.15">1</text>
<rect x="305.10" y="222.80" width="6.53" height="6.11" fill="#FFE6E6" stroke="#EBA0A0" stroke-width="0.45"/>
<text x="308.36" y="227.56" font-size="4.1" text-anchor="middle" fill="#3C3C3C" stroke="#3C3C3C" stroke-width="0.15">2</text>
<text x="315.10" y="227.56" font-size="4.1" text-anchor="middle" fill="#3C3C3C" stroke="#3C3C3C" stroke-width="0.15">1</text>
<text x="335.29" y="227.56" font-size="4.1" text-anchor="middle" fill="#3C3C3C" stroke="#3C3C3C" stroke-width="0.15">1</text>
<text x="342.03" y="227.56" font-size="4.1" text-anchor="middle" fill="#3C3C3C" stroke="#3C3C3C" stroke-width="0.15">1</text>
<rect x="345.49" y="222.80" width="6.53" height="6.11" fill="#FF8484" stroke="#EB3E3E" stroke-width="0.45"/>
<text x="348.76" y="227.56" font-size="4.1" text-anchor="middle" fill="#3C3C3C" stroke="#3C3C3C" stroke-width="0.15">6</text>
<rect x="358.96" y="222.80" width="6.53" height="6.11" fill="#FFB0B0" stroke="#EB6A6A" stroke-width="0.45"/>
<text x="362.23" y="227.56" font-size="4.1" text-anchor="middle" fill="#3C3C3C" stroke="#3C3C3C" stroke-width="0.15">4</text>
<text x="267.96" y="233.87" font-size="4.1" text-anchor="middle" fill="#3C3C3C" stroke="#3C3C3C" stroke-width="0.15">1</text>
<text x="274.70" y="233.87" font-size="4.1" text-anchor="middle" fill="#3C3C3C" stroke="#3C3C3C" stroke-width="0.15">1</text>
<text x="308.36" y="233.87" font-size="4.1" text-anchor="middle" fill="#3C3C3C" stroke="#3C3C3C" stroke-width="0.15">1</text>
<text x="315.10" y="233.87" font-size="4.1" text-anchor="middle" fill="#3C3C3C" stroke="#3C3C3C" stroke-width="0.15">1</text>
<text x="321.83" y="233.87" font-size="4.1" text-anchor="middle" fill="#3C3C3C" stroke="#3C3C3C" stroke-width="0.15">1</text>
<text x="328.56" y="233.87" font-size="4.1" text-anchor="middle" fill="#3C3C3C" stroke="#3C3C3C" stroke-width="0.15">1</text>
<text x="335.29" y="233.87" font-size="4.1" text-anchor="middle" fill="#3C3C3C" stroke="#3C3C3C" stroke-width="0.15">1</text>
<rect x="345.49" y="229.11" width="6.53" height="6.11" fill="#FFE6E6" stroke="#EBA0A0" stroke-width="0.45"/>
<text x="348.76" y="233.87" font-size="4.1" text-anchor="middle" fill="#3C3C3C" stroke="#3C3C3C" stroke-width="0.15">2</text>
<rect x="352.23" y="229.11" width="6.53" height="6.11" fill="#FFE6E6" stroke="#EBA0A0" stroke-width="0.45"/>
<text x="355.49" y="233.87" font-size="4.1" text-anchor="middle" fill="#3C3C3C" stroke="#3C3C3C" stroke-width="0.15">2</text>
<rect x="358.96" y="229.11" width="6.53" height="6.11" fill="#FC1414" stroke="#EB0000" stroke-width="0.45"/>
<text x="362.23" y="233.87" font-size="4.1" text-anchor="middle" fill="#3A0808" stroke="#3A0808" stroke-width="0.15">14</text>
<text x="234.30" y="240.18" font-size="4.1" text-anchor="middle" fill="#3C3C3C" stroke="#3C3C3C" stroke-width="0.15">1</text>
<text x="308.36" y="240.18" font-size="4.1" text-anchor="middle" fill="#3C3C3C" stroke="#3C3C3C" stroke-width="0.15">1</text>
<text x="315.10" y="240.18" font-size="4.1" text-anchor="middle" fill="#3C3C3C" stroke="#3C3C3C" stroke-width="0.15">1</text>
<text x="321.83" y="240.18" font-size="4.1" text-anchor="middle" fill="#3C3C3C" stroke="#3C3C3C" stroke-width="0.15">1</text>
<rect x="325.30" y="235.42" width="6.53" height="6.11" fill="#FFE6E6" stroke="#EBA0A0" stroke-width="0.45"/>
<text x="328.56" y="240.18" font-size="4.1" text-anchor="middle" fill="#3C3C3C" stroke="#3C3C3C" stroke-width="0.15">2</text>
<rect x="332.03" y="235.42" width="6.53" height="6.11" fill="#FFE6E6" stroke="#EBA0A0" stroke-width="0.45"/>
<text x="335.29" y="240.18" font-size="4.1" text-anchor="middle" fill="#3C3C3C" stroke="#3C3C3C" stroke-width="0.15">2</text>
<rect x="345.49" y="235.42" width="6.53" height="6.11" fill="#FFE6E6" stroke="#EBA0A0" stroke-width="0.45"/>
<text x="348.76" y="240.18" font-size="4.1" text-anchor="middle" fill="#3C3C3C" stroke="#3C3C3C" stroke-width="0.15">2</text>
<text x="355.49" y="240.18" font-size="4.1" text-anchor="middle" fill="#3C3C3C" stroke="#3C3C3C" stroke-width="0.15">1</text>
<rect x="358.96" y="235.42" width="6.53" height="6.11" fill="#FA5252" stroke="#EB0C0C" stroke-width="0.45"/>
<text x="362.23" y="240.18" font-size="4.1" text-anchor="middle" fill="#3A0808" stroke="#3A0808" stroke-width="0.15">9</text>
<text x="227.57" y="246.49" font-size="4.1" text-anchor="middle" fill="#3C3C3C" stroke="#3C3C3C" stroke-width="0.15">1</text>
<text x="301.63" y="246.49" font-size="4.1" text-anchor="middle" fill="#3C3C3C" stroke="#3C3C3C" stroke-width="0.15">1</text>
<rect x="325.30" y="241.74" width="6.53" height="6.11" fill="#FFB0B0" stroke="#EB6A6A" stroke-width="0.45"/>
<text x="328.56" y="246.49" font-size="4.1" text-anchor="middle" fill="#3C3C3C" stroke="#3C3C3C" stroke-width="0.15">4</text>
<rect x="358.96" y="241.74" width="6.53" height="6.11" fill="#FC1414" stroke="#EB0000" stroke-width="0.45"/>
<text x="362.23" y="246.49" font-size="4.1" text-anchor="middle" fill="#3A0808" stroke="#3A0808" stroke-width="0.15">14</text>
<text x="227.57" y="252.81" font-size="4.1" text-anchor="middle" fill="#3C3C3C" stroke="#3C3C3C" stroke-width="0.15">1</text>
<rect x="311.83" y="248.05" width="6.53" height="6.11" fill="#FFB0B0" stroke="#EB6A6A" stroke-width="0.45"/>
<text x="315.10" y="252.81" font-size="4.1" text-anchor="middle" fill="#3C3C3C" stroke="#3C3C3C" stroke-width="0.15">4</text>
<text x="321.83" y="252.81" font-size="4.1" text-anchor="middle" fill="#3C3C3C" stroke="#3C3C3C" stroke-width="0.15">1</text>
<text x="328.56" y="252.81" font-size="4.1" text-anchor="middle" fill="#3C3C3C" stroke="#3C3C3C" stroke-width="0.15">1</text>
<rect x="358.96" y="248.05" width="6.53" height="6.11" fill="#FA5252" stroke="#EB0C0C" stroke-width="0.45"/>
<text x="362.23" y="252.81" font-size="4.1" text-anchor="middle" fill="#3A0808" stroke="#3A0808" stroke-width="0.15">9</text>
<text x="254.50" y="259.12" font-size="4.1" text-anchor="middle" fill="#3C3C3C" stroke="#3C3C3C" stroke-width="0.15">1</text>
<text x="294.90" y="259.12" font-size="4.1" text-anchor="middle" fill="#3C3C3C" stroke="#3C3C3C" stroke-width="0.15">1</text>
<text x="308.36" y="259.12" font-size="4.1" text-anchor="middle" fill="#3C3C3C" stroke="#3C3C3C" stroke-width="0.15">1</text>
<rect x="311.83" y="254.36" width="6.53" height="6.11" fill="#FF8484" stroke="#EB3E3E" stroke-width="0.45"/>
<text x="315.10" y="259.12" font-size="4.1" text-anchor="middle" fill="#3C3C3C" stroke="#3C3C3C" stroke-width="0.15">6</text>
<rect x="318.56" y="254.36" width="6.53" height="6.11" fill="#FFE6E6" stroke="#EBA0A0" stroke-width="0.45"/>
<text x="321.83" y="259.12" font-size="4.1" text-anchor="middle" fill="#3C3C3C" stroke="#3C3C3C" stroke-width="0.15">2</text>
<rect x="358.96" y="254.36" width="6.53" height="6.11" fill="#FF8484" stroke="#EB3E3E" stroke-width="0.45"/>
<text x="362.23" y="259.12" font-size="4.1" text-anchor="middle" fill="#3C3C3C" stroke="#3C3C3C" stroke-width="0.15">6</text>
<text x="301.63" y="265.43" font-size="4.1" text-anchor="middle" fill="#3C3C3C" stroke="#3C3C3C" stroke-width="0.15">1</text>
<text x="308.36" y="265.43" font-size="4.1" text-anchor="middle" fill="#3C3C3C" stroke="#3C3C3C" stroke-width="0.15">1</text>
<text x="315.10" y="265.43" font-size="4.1" text-anchor="middle" fill="#3C3C3C" stroke="#3C3C3C" stroke-width="0.15">1</text>
<rect x="325.30" y="260.68" width="6.53" height="6.11" fill="#FF9898" stroke="#EB5252" stroke-width="0.45"/>
<text x="328.56" y="265.43" font-size="4.1" text-anchor="middle" fill="#3C3C3C" stroke="#3C3C3C" stroke-width="0.15">5</text>
<rect x="345.49" y="260.68" width="6.53" height="6.11" fill="#FFB0B0" stroke="#EB6A6A" stroke-width="0.45"/>
<text x="348.76" y="265.43" font-size="4.1" text-anchor="middle" fill="#3C3C3C" stroke="#3C3C3C" stroke-width="0.15">4</text>
<rect x="358.96" y="260.68" width="6.53" height="6.11" fill="#FC0000" stroke="#EB0000" stroke-width="0.45"/>
<text x="362.23" y="265.43" font-size="4.1" text-anchor="middle" fill="#3A0808" stroke="#3A0808" stroke-width="0.15">18</text>
<text x="227.57" y="271.75" font-size="4.1" text-anchor="middle" fill="#3C3C3C" stroke="#3C3C3C" stroke-width="0.15">1</text>
<rect x="271.43" y="266.99" width="6.53" height="6.11" fill="#FFE6E6" stroke="#EBA0A0" stroke-width="0.45"/>
<text x="274.70" y="271.75" font-size="4.1" text-anchor="middle" fill="#3C3C3C" stroke="#3C3C3C" stroke-width="0.15">2</text>
<text x="294.90" y="271.75" font-size="4.1" text-anchor="middle" fill="#3C3C3C" stroke="#3C3C3C" stroke-width="0.15">1</text>
<rect x="311.83" y="266.99" width="6.53" height="6.11" fill="#FF9898" stroke="#EB5252" stroke-width="0.45"/>
<text x="315.10" y="271.75" font-size="4.1" text-anchor="middle" fill="#3C3C3C" stroke="#3C3C3C" stroke-width="0.15">5</text>
<rect x="325.30" y="266.99" width="6.53" height="6.11" fill="#FFCCCC" stroke="#EB8686" stroke-width="0.45"/>
<text x="328.56" y="271.75" font-size="4.1" text-anchor="middle" fill="#3C3C3C" stroke="#3C3C3C" stroke-width="0.15">3</text>
<rect x="345.49" y="266.99" width="6.53" height="6.11" fill="#FFE6E6" stroke="#EBA0A0" stroke-width="0.45"/>
<text x="348.76" y="271.75" font-size="4.1" text-anchor="middle" fill="#3C3C3C" stroke="#3C3C3C" stroke-width="0.15">2</text>
<text x="355.49" y="271.75" font-size="4.1" text-anchor="middle" fill="#3C3C3C" stroke="#3C3C3C" stroke-width="0.15">1</text>
<rect x="358.96" y="266.99" width="6.53" height="6.11" fill="#FC0404" stroke="#EB0000" stroke-width="0.45"/>
<text x="362.23" y="271.75" font-size="4.1" text-anchor="middle" fill="#3A0808" stroke="#3A0808" stroke-width="0.15">17</text>
<line x1="225.80" y1="74.5" x2="249.60" y2="74.5" stroke="#5DAE3B" stroke-width="0.9"/>
<text transform="translate(237.00 71.6) rotate(-44)" font-size="4.55" fill="#222" stroke="#222" stroke-width="0.12">Other elements (25)</text>
<line x1="252.00" y1="74.5" x2="297.40" y2="74.5" stroke="#F5B800" stroke-width="0.9"/>
<text transform="translate(274.10 71.6) rotate(-44)" font-size="4.50" fill="#222" stroke="#222" stroke-width="0.12">Development related elements (41)</text>
<line x1="299.80" y1="74.5" x2="323.90" y2="74.5" stroke="#A8A8A8" stroke-width="0.9"/>
<text transform="translate(311.20 71.6) rotate(-44)" font-size="4.50" fill="#222" stroke="#222" stroke-width="0.12">Environmental stress-related elements (118)</text>
<line x1="326.80" y1="74.5" x2="356.60" y2="74.5" stroke="#F27A22" stroke-width="0.9"/>
<text transform="translate(338.40 71.6) rotate(-44)" font-size="4.42" fill="#222" stroke="#222" stroke-width="0.12">Hormone responsive elements (152)</text>
<line x1="359.50" y1="74.5" x2="365.00" y2="74.5" stroke="#2C9BE8" stroke-width="0.9"/>
<text transform="translate(362.70 71.6) rotate(-44)" font-size="4.38" fill="#222" stroke="#222" stroke-width="0.12">Light responsive elements (348)</text>
<text transform="translate(225.97 277.80) rotate(44)" font-size="4.55" fill="#222" stroke="#222" stroke-width="0.12">AT-rich DNA binding protein (ATBF-1)</text>
<text transform="translate(232.70 277.80) rotate(44)" font-size="4.55" fill="#222" stroke="#222" stroke-width="0.12">MYBHv1 binding site</text>
<text transform="translate(239.43 277.80) rotate(44)" font-size="4.55" fill="#222" stroke="#222" stroke-width="0.12">Conserved DNA module array (CMA3)</text>
<text transform="translate(246.17 277.80) rotate(44)" font-size="4.55" fill="#222" stroke="#222" stroke-width="0.12">Protein binding site</text>
<text transform="translate(252.90 277.80) rotate(44)" font-size="4.55" fill="#222" stroke="#222" stroke-width="0.12">Circadian control</text>
<text transform="translate(259.63 277.80) rotate(44)" font-size="4.55" fill="#222" stroke="#222" stroke-width="0.12">Endosperm expression</text>
<text transform="translate(266.36 277.80) rotate(44)" font-size="4.55" fill="#222" stroke="#222" stroke-width="0.12">MYB binding site flavonoid biosynthetic genes regulation</text>
<text transform="translate(273.10 277.80) rotate(44)" font-size="4.55" fill="#222" stroke="#222" stroke-width="0.12">Meristem expression</text>
<text transform="translate(279.83 277.80) rotate(44)" font-size="4.55" fill="#222" stroke="#222" stroke-width="0.12">Differentiation of the palisade mesophyll cells</text>
<text transform="translate(286.56 277.80) rotate(44)" font-size="4.55" fill="#222" stroke="#222" stroke-width="0.12">Seed-specific regulation</text>
<text transform="translate(293.30 277.80) rotate(44)" font-size="4.55" fill="#222" stroke="#222" stroke-width="0.12">Zein metabolism regulation</text>
<text transform="translate(300.03 277.80) rotate(44)" font-size="4.55" fill="#222" stroke="#222" stroke-width="0.12">Defense and stress responsive element</text>
<text transform="translate(306.76 277.80) rotate(44)" font-size="4.55" fill="#222" stroke="#222" stroke-width="0.12">MYB binding site involved in drought-inducibility</text>
<text transform="translate(313.50 277.80) rotate(44)" font-size="4.55" fill="#222" stroke="#222" stroke-width="0.12">Anaerobic induction element</text>
<text transform="translate(320.23 277.80) rotate(44)" font-size="4.55" fill="#222" stroke="#222" stroke-width="0.12">Low-temperature responsive element</text>
<text transform="translate(326.96 277.80) rotate(44)" font-size="4.55" fill="#222" stroke="#222" stroke-width="0.12">Abscisic acid responsive element</text>
<text transform="translate(333.69 277.80) rotate(44)" font-size="4.55" fill="#222" stroke="#222" stroke-width="0.12">Auxin responsive element</text>
<text transform="translate(340.43 277.80) rotate(44)" font-size="4.55" fill="#222" stroke="#222" stroke-width="0.12">Gibberellin-responsive element</text>
<text transform="translate(347.16 277.80) rotate(44)" font-size="4.55" fill="#222" stroke="#222" stroke-width="0.12">MeJA-responsive element</text>
<text transform="translate(353.89 277.80) rotate(44)" font-size="4.55" fill="#222" stroke="#222" stroke-width="0.12">Salicylic acid responsive element</text>
<text transform="translate(360.63 277.80) rotate(44)" font-size="4.55" fill="#222" stroke="#222" stroke-width="0.12">Light responsive element</text>
</g>
<g id="panelC">
<text x="422.4" y="57.1" font-size="8.2" text-anchor="middle" fill="#000">C</text>
<text x="426" y="66.6" font-size="4.44" text-anchor="middle" fill="#111">Number of components</text>
<line x1="373.90" y1="77.4" x2="373.90" y2="274.2" stroke="#767676" stroke-width="0.7"/>
<line x1="374.20" y1="77.4" x2="478.30" y2="77.4" stroke="#8C8C8C" stroke-width="0.6"/>
<line x1="374.20" y1="77.4" x2="374.20" y2="78.6" stroke="#6A6A6A" stroke-width="0.6"/>
<text transform="translate(372.80 73.5) rotate(90)" font-size="3.9" text-anchor="middle" fill="#333" stroke="#333" stroke-width="0.1">2</text>
<line x1="387.09" y1="77.4" x2="387.09" y2="78.6" stroke="#6A6A6A" stroke-width="0.6"/>
<text transform="translate(385.69 73.5) rotate(90)" font-size="3.9" text-anchor="middle" fill="#333" stroke="#333" stroke-width="0.1">6</text>
<line x1="399.98" y1="77.4" x2="399.98" y2="78.6" stroke="#6A6A6A" stroke-width="0.6"/>
<text transform="translate(398.58 73.5) rotate(90)" font-size="3.9" text-anchor="middle" fill="#333" stroke="#333" stroke-width="0.1">10</text>
<line x1="412.86" y1="77.4" x2="412.86" y2="78.6" stroke="#6A6A6A" stroke-width="0.6"/>
<text transform="translate(411.46 73.5) rotate(90)" font-size="3.9" text-anchor="middle" fill="#333" stroke="#333" stroke-width="0.1">14</text>
<line x1="425.75" y1="77.4" x2="425.75" y2="78.6" stroke="#6A6A6A" stroke-width="0.6"/>
<text transform="translate(424.35 73.5) rotate(90)" font-size="3.9" text-anchor="middle" fill="#333" stroke="#333" stroke-width="0.1">18</text>
<line x1="438.64" y1="77.4" x2="438.64" y2="78.6" stroke="#6A6A6A" stroke-width="0.6"/>
<text transform="translate(437.24 73.5) rotate(90)" font-size="3.9" text-anchor="middle" fill="#333" stroke="#333" stroke-width="0.1">22</text>
<line x1="451.53" y1="77.4" x2="451.53" y2="78.6" stroke="#6A6A6A" stroke-width="0.6"/>
<text transform="translate(450.13 73.5) rotate(90)" font-size="3.9" text-anchor="middle" fill="#333" stroke="#333" stroke-width="0.1">26</text>
<line x1="464.42" y1="77.4" x2="464.42" y2="78.6" stroke="#6A6A6A" stroke-width="0.6"/>
<text transform="translate(463.02 73.5) rotate(90)" font-size="3.9" text-anchor="middle" fill="#333" stroke="#333" stroke-width="0.1">30</text>
<line x1="477.30" y1="77.4" x2="477.30" y2="78.6" stroke="#6A6A6A" stroke-width="0.6"/>
<text transform="translate(475.90 73.5) rotate(90)" font-size="3.9" text-anchor="middle" fill="#333" stroke="#333" stroke-width="0.1">34</text>
<rect x="374.20" y="78.55" width="22.55" height="4.4" fill="#2090E2"/>
<rect x="396.75" y="78.55" width="29.00" height="4.4" fill="#FB7A1E"/>
<rect x="425.75" y="78.55" width="19.33" height="4.4" fill="#ADADAD"/>
<rect x="445.08" y="78.55" width="3.22" height="4.4" fill="#FCC100"/>
<rect x="374.20" y="84.86" width="38.66" height="4.4" fill="#2090E2"/>
<rect x="412.86" y="84.86" width="9.67" height="4.4" fill="#FB7A1E"/>
<rect x="422.53" y="84.86" width="9.67" height="4.4" fill="#ADADAD"/>
<rect x="432.20" y="84.86" width="3.22" height="4.4" fill="#3CAA32"/>
<rect x="374.20" y="91.18" width="29.00" height="4.4" fill="#2090E2"/>
<rect x="403.20" y="91.18" width="9.67" height="4.4" fill="#FB7A1E"/>
<rect x="412.86" y="91.18" width="6.44" height="4.4" fill="#FCC100"/>
<rect x="419.31" y="91.18" width="6.44" height="4.4" fill="#3CAA32"/>
<rect x="374.20" y="97.49" width="32.22" height="4.4" fill="#2090E2"/>
<rect x="406.42" y="97.49" width="6.44" height="4.4" fill="#FB7A1E"/>
<rect x="412.86" y="97.49" width="3.22" height="4.4" fill="#ADADAD"/>
<rect x="374.20" y="103.80" width="16.11" height="4.4" fill="#2090E2"/>
<rect x="390.31" y="103.80" width="9.67" height="4.4" fill="#FB7A1E"/>
<rect x="399.98" y="103.80" width="16.11" height="4.4" fill="#ADADAD"/>
<rect x="416.09" y="103.80" width="9.67" height="4.4" fill="#FCC100"/>
<rect x="425.75" y="103.80" width="6.44" height="4.4" fill="#3CAA32"/>
<rect x="374.20" y="110.11" width="16.11" height="4.4" fill="#2090E2"/>
<rect x="390.31" y="110.11" width="3.22" height="4.4" fill="#FB7A1E"/>
<rect x="393.53" y="110.11" width="25.78" height="4.4" fill="#ADADAD"/>
<rect x="419.31" y="110.11" width="3.22" height="4.4" fill="#FCC100"/>
<rect x="422.53" y="110.11" width="3.22" height="4.4" fill="#3CAA32"/>
<rect x="374.20" y="116.43" width="19.33" height="4.4" fill="#2090E2"/>
<rect x="393.53" y="116.43" width="12.89" height="4.4" fill="#FB7A1E"/>
<rect x="406.42" y="116.43" width="9.67" height="4.4" fill="#ADADAD"/>
<rect x="416.09" y="116.43" width="3.22" height="4.4" fill="#3CAA32"/>
<rect x="374.20" y="122.74" width="51.55" height="4.4" fill="#2090E2"/>
<rect x="425.75" y="122.74" width="35.44" height="4.4" fill="#FB7A1E"/>
<rect x="461.19" y="122.74" width="3.22" height="4.4" fill="#ADADAD"/>
<rect x="374.20" y="129.05" width="38.66" height="4.4" fill="#2090E2"/>
<rect x="412.86" y="129.05" width="12.89" height="4.4" fill="#FB7A1E"/>
<rect x="425.75" y="129.05" width="12.89" height="4.4" fill="#ADADAD"/>
<rect x="438.64" y="129.05" width="6.44" height="4.4" fill="#FCC100"/>
<rect x="445.08" y="129.05" width="3.22" height="4.4" fill="#3CAA32"/>
<rect x="374.20" y="135.37" width="22.55" height="4.4" fill="#2090E2"/>
<rect x="396.75" y="135.37" width="38.66" height="4.4" fill="#FB7A1E"/>
<rect x="435.42" y="135.37" width="19.33" height="4.4" fill="#ADADAD"/>
<rect x="454.75" y="135.37" width="3.22" height="4.4" fill="#FCC100"/>
<rect x="457.97" y="135.37" width="3.22" height="4.4" fill="#3CAA32"/>
<rect x="374.20" y="141.68" width="35.44" height="4.4" fill="#2090E2"/>
<rect x="409.64" y="141.68" width="25.78" height="4.4" fill="#FB7A1E"/>
<rect x="435.42" y="141.68" width="29.00" height="4.4" fill="#ADADAD"/>
<rect x="464.42" y="141.68" width="6.44" height="4.4" fill="#FCC100"/>
<rect x="374.20" y="147.99" width="25.78" height="4.4" fill="#2090E2"/>
<rect x="399.98" y="147.99" width="6.44" height="4.4" fill="#FB7A1E"/>
<rect x="406.42" y="147.99" width="6.44" height="4.4" fill="#ADADAD"/>
<rect x="412.86" y="147.99" width="3.22" height="4.4" fill="#FCC100"/>
<rect x="374.20" y="154.31" width="22.55" height="4.4" fill="#2090E2"/>
<rect x="396.75" y="154.31" width="6.44" height="4.4" fill="#FB7A1E"/>
<rect x="403.20" y="154.31" width="6.44" height="4.4" fill="#ADADAD"/>
<rect x="409.64" y="154.31" width="16.11" height="4.4" fill="#FCC100"/>
<rect x="374.20" y="160.62" width="32.22" height="4.4" fill="#2090E2"/>
<rect x="406.42" y="160.62" width="16.11" height="4.4" fill="#FB7A1E"/>
<rect x="422.53" y="160.62" width="19.33" height="4.4" fill="#ADADAD"/>
<rect x="441.86" y="160.62" width="3.22" height="4.4" fill="#FCC100"/>
<rect x="445.08" y="160.62" width="3.22" height="4.4" fill="#3CAA32"/>
<rect x="374.20" y="166.93" width="19.33" height="4.4" fill="#2090E2"/>
<rect x="393.53" y="166.93" width="22.55" height="4.4" fill="#FB7A1E"/>
<rect x="416.09" y="166.93" width="6.44" height="4.4" fill="#ADADAD"/>
<rect x="422.53" y="166.93" width="6.44" height="4.4" fill="#FCC100"/>
<rect x="428.97" y="166.93" width="3.22" height="4.4" fill="#3CAA32"/>
<rect x="374.20" y="173.25" width="29.00" height="4.4" fill="#2090E2"/>
<rect x="403.20" y="173.25" width="22.55" height="4.4" fill="#FB7A1E"/>
<rect x="425.75" y="173.25" width="16.11" height="4.4" fill="#ADADAD"/>
<rect x="441.86" y="173.25" width="9.67" height="4.4" fill="#FCC100"/>
<rect x="374.20" y="179.56" width="22.55" height="4.4" fill="#2090E2"/>
<rect x="396.75" y="179.56" width="3.22" height="4.4" fill="#FB7A1E"/>
<rect x="399.98" y="179.56" width="6.44" height="4.4" fill="#ADADAD"/>
<rect x="406.42" y="179.56" width="9.67" height="4.4" fill="#FCC100"/>
<rect x="374.20" y="185.87" width="38.66" height="4.4" fill="#2090E2"/>
<rect x="412.86" y="185.87" width="19.33" height="4.4" fill="#FB7A1E"/>
<rect x="432.20" y="185.87" width="16.11" height="4.4" fill="#ADADAD"/>
<rect x="448.31" y="185.87" width="3.22" height="4.4" fill="#FCC100"/>
<rect x="374.20" y="192.18" width="16.11" height="4.4" fill="#2090E2"/>
<rect x="390.31" y="192.18" width="12.89" height="4.4" fill="#FB7A1E"/>
<rect x="403.20" y="192.18" width="12.89" height="4.4" fill="#ADADAD"/>
<rect x="416.09" y="192.18" width="6.44" height="4.4" fill="#FCC100"/>
<rect x="422.53" y="192.18" width="3.22" height="4.4" fill="#3CAA32"/>
<rect x="374.20" y="198.50" width="22.55" height="4.4" fill="#2090E2"/>
<rect x="396.75" y="198.50" width="12.89" height="4.4" fill="#FB7A1E"/>
<rect x="409.64" y="198.50" width="3.22" height="4.4" fill="#ADADAD"/>
<rect x="412.86" y="198.50" width="6.44" height="4.4" fill="#3CAA32"/>
<rect x="374.20" y="204.81" width="45.11" height="4.4" fill="#2090E2"/>
<rect x="419.31" y="204.81" width="16.11" height="4.4" fill="#FB7A1E"/>
<rect x="435.42" y="204.81" width="12.89" height="4.4" fill="#ADADAD"/>
<rect x="448.31" y="204.81" width="6.44" height="4.4" fill="#FCC100"/>
<rect x="374.20" y="211.12" width="29.00" height="4.4" fill="#2090E2"/>
<rect x="403.20" y="211.12" width="6.44" height="4.4" fill="#FB7A1E"/>
<rect x="409.64" y="211.12" width="9.67" height="4.4" fill="#ADADAD"/>
<rect x="419.31" y="211.12" width="9.67" height="4.4" fill="#3CAA32"/>
<rect x="374.20" y="217.44" width="54.77" height="4.4" fill="#2090E2"/>
<rect x="428.97" y="217.44" width="19.33" height="4.4" fill="#FB7A1E"/>
<rect x="448.31" y="217.44" width="12.89" height="4.4" fill="#ADADAD"/>
<rect x="461.19" y="217.44" width="6.44" height="4.4" fill="#3CAA32"/>
<rect x="374.20" y="223.75" width="6.44" height="4.4" fill="#2090E2"/>
<rect x="380.64" y="223.75" width="25.78" height="4.4" fill="#FB7A1E"/>
<rect x="406.42" y="223.75" width="9.67" height="4.4" fill="#ADADAD"/>
<rect x="416.09" y="223.75" width="6.44" height="4.4" fill="#FCC100"/>
<rect x="422.53" y="223.75" width="6.44" height="4.4" fill="#3CAA32"/>
<rect x="374.20" y="230.06" width="38.66" height="4.4" fill="#2090E2"/>
<rect x="412.86" y="230.06" width="19.33" height="4.4" fill="#FB7A1E"/>
<rect x="432.20" y="230.06" width="9.67" height="4.4" fill="#ADADAD"/>
<rect x="441.86" y="230.06" width="6.44" height="4.4" fill="#FCC100"/>
<rect x="374.20" y="236.38" width="22.55" height="4.4" fill="#2090E2"/>
<rect x="396.75" y="236.38" width="22.55" height="4.4" fill="#FB7A1E"/>
<rect x="419.31" y="236.38" width="9.67" height="4.4" fill="#ADADAD"/>
<rect x="428.97" y="236.38" width="3.22" height="4.4" fill="#3CAA32"/>
<rect x="374.20" y="242.69" width="38.66" height="4.4" fill="#2090E2"/>
<rect x="412.86" y="242.69" width="12.89" height="4.4" fill="#FB7A1E"/>
<rect x="425.75" y="242.69" width="3.22" height="4.4" fill="#ADADAD"/>
<rect x="428.97" y="242.69" width="3.22" height="4.4" fill="#3CAA32"/>
<rect x="374.20" y="249.00" width="22.55" height="4.4" fill="#2090E2"/>
<rect x="396.75" y="249.00" width="3.22" height="4.4" fill="#FB7A1E"/>
<rect x="399.98" y="249.00" width="16.11" height="4.4" fill="#ADADAD"/>
<rect x="416.09" y="249.00" width="3.22" height="4.4" fill="#3CAA32"/>
<rect x="374.20" y="255.31" width="12.89" height="4.4" fill="#2090E2"/>
<rect x="387.09" y="255.31" width="29.00" height="4.4" fill="#ADADAD"/>
<rect x="416.09" y="255.31" width="6.44" height="4.4" fill="#FCC100"/>
<rect x="374.20" y="261.63" width="51.55" height="4.4" fill="#2090E2"/>
<rect x="425.75" y="261.63" width="29.00" height="4.4" fill="#FB7A1E"/>
<rect x="454.75" y="261.63" width="9.67" height="4.4" fill="#ADADAD"/>
<rect x="374.20" y="267.94" width="48.33" height="4.4" fill="#2090E2"/>
<rect x="422.53" y="267.94" width="19.33" height="4.4" fill="#FB7A1E"/>
<rect x="441.86" y="267.94" width="16.11" height="4.4" fill="#ADADAD"/>
<rect x="457.97" y="267.94" width="9.67" height="4.4" fill="#FCC100"/>
<rect x="467.64" y="267.94" width="3.22" height="4.4" fill="#3CAA32"/>
<rect x="458.9" y="155.60" width="2.8" height="2.8" fill="#2090E2"/>
<text x="463.5" y="158.60" font-size="4.5" fill="#222" stroke="#222" stroke-width="0.12">Light responsive elements</text>
<rect x="458.9" y="163.25" width="2.8" height="2.8" fill="#FB7A1E"/>
<text x="463.5" y="166.25" font-size="4.5" fill="#222" stroke="#222" stroke-width="0.12">Hormone responsive elements</text>
<rect x="458.9" y="170.90" width="2.8" height="2.8" fill="#ADADAD"/>
<text x="463.5" y="173.90" font-size="4.5" fill="#222" stroke="#222" stroke-width="0.12">Environmental stress-related elements</text>
<rect x="458.9" y="178.55" width="2.8" height="2.8" fill="#FCC100"/>
<text x="463.5" y="181.55" font-size="4.5" fill="#222" stroke="#222" stroke-width="0.12">Development related elements</text>
<rect x="458.9" y="186.20" width="2.8" height="2.8" fill="#3CAA32"/>
<text x="463.5" y="189.20" font-size="4.5" fill="#222" stroke="#222" stroke-width="0.12">Other elements</text>
</g>
</svg></body></html>
